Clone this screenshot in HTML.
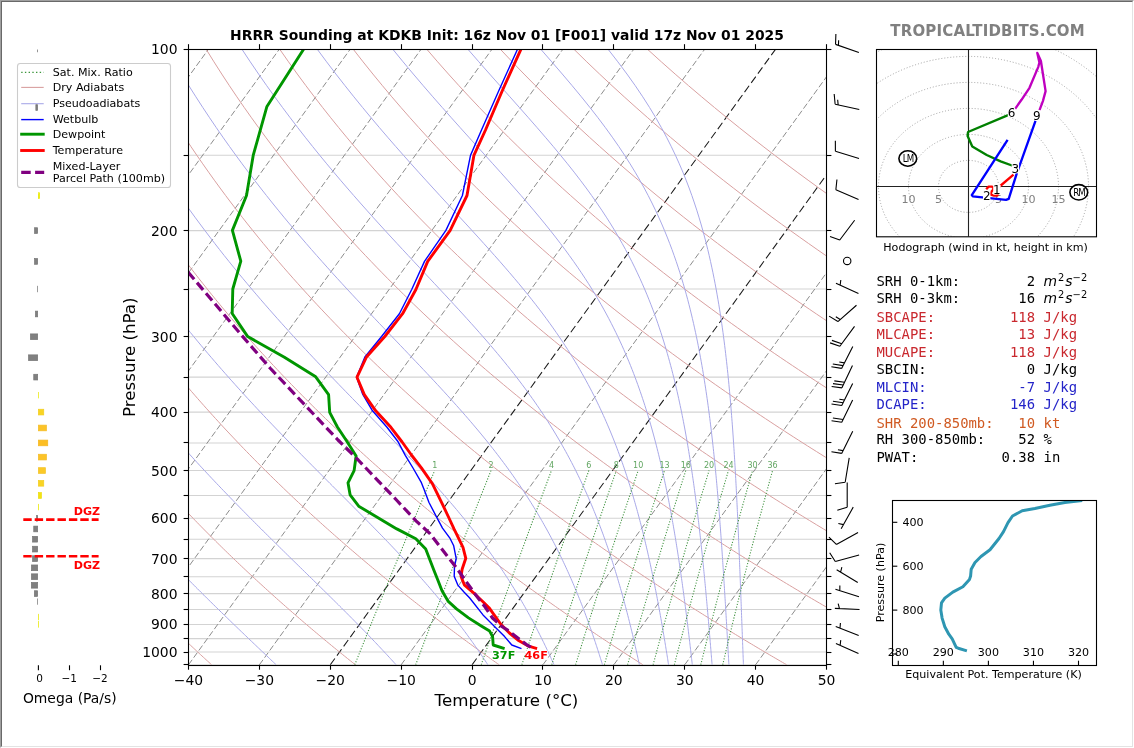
<!DOCTYPE html>
<html><head><meta charset="utf-8"><title>HRRR Sounding KDKB</title>
<style>
html,body{margin:0;padding:0;background:#ffffff;}
body{width:1134px;height:748px;overflow:hidden;position:relative;}
.frame{position:absolute;left:0;top:0;width:1134px;height:748px;box-sizing:border-box;
 border-style:solid;border-width:1px;border-color:#a0a0a0 #ffffff #ffffff #a0a0a0;}
.frame2{position:absolute;left:1px;top:1px;width:1132px;height:746px;box-sizing:border-box;
 border-style:solid;border-width:1px;border-color:#696969 #e3e3e3 #e3e3e3 #696969;}
</style></head><body>
<svg width="1134" height="748" viewBox="0 0 1134 748" style="position:absolute;left:0;top:0">
<defs>
<clipPath id="cskew"><rect x="188.5" y="49.08" width="638" height="615.73"/></clipPath>
<clipPath id="chodo"><rect x="876.7" y="49.4" width="219.8" height="187.4"/></clipPath>
<clipPath id="cthe"><rect x="892.4" y="500.5" width="204" height="165.1"/></clipPath>
</defs>
<rect x="0" y="0" width="1134" height="748" fill="#ffffff"/>
<g clip-path="url(#cskew)" fill="none">
<line x1="188.5" y1="49.08" x2="826.5" y2="49.08" stroke="#d3d3d3" stroke-width="1.1"/>
<line x1="188.5" y1="155.25" x2="826.5" y2="155.25" stroke="#d3d3d3" stroke-width="1.1"/>
<line x1="188.5" y1="230.59" x2="826.5" y2="230.59" stroke="#d3d3d3" stroke-width="1.1"/>
<line x1="188.5" y1="289.02" x2="826.5" y2="289.02" stroke="#d3d3d3" stroke-width="1.1"/>
<line x1="188.5" y1="336.76" x2="826.5" y2="336.76" stroke="#d3d3d3" stroke-width="1.1"/>
<line x1="188.5" y1="377.13" x2="826.5" y2="377.13" stroke="#d3d3d3" stroke-width="1.1"/>
<line x1="188.5" y1="412.09" x2="826.5" y2="412.09" stroke="#d3d3d3" stroke-width="1.1"/>
<line x1="188.5" y1="442.94" x2="826.5" y2="442.94" stroke="#d3d3d3" stroke-width="1.1"/>
<line x1="188.5" y1="470.53" x2="826.5" y2="470.53" stroke="#d3d3d3" stroke-width="1.1"/>
<line x1="188.5" y1="495.48" x2="826.5" y2="495.48" stroke="#d3d3d3" stroke-width="1.1"/>
<line x1="188.5" y1="518.27" x2="826.5" y2="518.27" stroke="#d3d3d3" stroke-width="1.1"/>
<line x1="188.5" y1="539.23" x2="826.5" y2="539.23" stroke="#d3d3d3" stroke-width="1.1"/>
<line x1="188.5" y1="558.64" x2="826.5" y2="558.64" stroke="#d3d3d3" stroke-width="1.1"/>
<line x1="188.5" y1="576.7" x2="826.5" y2="576.7" stroke="#d3d3d3" stroke-width="1.1"/>
<line x1="188.5" y1="593.6" x2="826.5" y2="593.6" stroke="#d3d3d3" stroke-width="1.1"/>
<line x1="188.5" y1="609.48" x2="826.5" y2="609.48" stroke="#d3d3d3" stroke-width="1.1"/>
<line x1="188.5" y1="624.44" x2="826.5" y2="624.44" stroke="#d3d3d3" stroke-width="1.1"/>
<line x1="188.5" y1="638.6" x2="826.5" y2="638.6" stroke="#d3d3d3" stroke-width="1.1"/>
<line x1="188.5" y1="652.03" x2="826.5" y2="652.03" stroke="#d3d3d3" stroke-width="1.1"/>
<line x1="188.5" y1="664.81" x2="826.5" y2="664.81" stroke="#d3d3d3" stroke-width="1.1"/>
<line x1="-307.72" y1="664.81" x2="137.67" y2="49.08" stroke="#8c8c8c" stroke-width="1" stroke-dasharray="6.2,2.6"/>
<line x1="-236.83" y1="664.81" x2="208.55" y2="49.08" stroke="#8c8c8c" stroke-width="1" stroke-dasharray="6.2,2.6"/>
<line x1="-165.94" y1="664.81" x2="279.44" y2="49.08" stroke="#8c8c8c" stroke-width="1" stroke-dasharray="6.2,2.6"/>
<line x1="-95.06" y1="664.81" x2="350.33" y2="49.08" stroke="#8c8c8c" stroke-width="1" stroke-dasharray="6.2,2.6"/>
<line x1="-24.17" y1="664.81" x2="421.22" y2="49.08" stroke="#8c8c8c" stroke-width="1" stroke-dasharray="6.2,2.6"/>
<line x1="46.72" y1="664.81" x2="492.11" y2="49.08" stroke="#8c8c8c" stroke-width="1" stroke-dasharray="6.2,2.6"/>
<line x1="117.61" y1="664.81" x2="563" y2="49.08" stroke="#8c8c8c" stroke-width="1" stroke-dasharray="6.2,2.6"/>
<line x1="188.5" y1="664.81" x2="633.89" y2="49.08" stroke="#8c8c8c" stroke-width="1" stroke-dasharray="6.2,2.6"/>
<line x1="259.39" y1="664.81" x2="704.78" y2="49.08" stroke="#8c8c8c" stroke-width="1" stroke-dasharray="6.2,2.6"/>
<line x1="330.28" y1="664.81" x2="775.67" y2="49.08" stroke="#1a1a1a" stroke-width="1.05" stroke-dasharray="7.8,3.6"/>
<line x1="401.17" y1="664.81" x2="846.55" y2="49.08" stroke="#8c8c8c" stroke-width="1" stroke-dasharray="6.2,2.6"/>
<line x1="472.06" y1="664.81" x2="917.44" y2="49.08" stroke="#1a1a1a" stroke-width="1.05" stroke-dasharray="7.8,3.6"/>
<line x1="542.94" y1="664.81" x2="988.33" y2="49.08" stroke="#8c8c8c" stroke-width="1" stroke-dasharray="6.2,2.6"/>
<line x1="613.83" y1="664.81" x2="1059.22" y2="49.08" stroke="#8c8c8c" stroke-width="1" stroke-dasharray="6.2,2.6"/>
<line x1="684.72" y1="664.81" x2="1130.11" y2="49.08" stroke="#8c8c8c" stroke-width="1" stroke-dasharray="6.2,2.6"/>
<line x1="755.61" y1="664.81" x2="1201" y2="49.08" stroke="#8c8c8c" stroke-width="1" stroke-dasharray="6.2,2.6"/>
<line x1="826.5" y1="664.81" x2="1271.89" y2="49.08" stroke="#8c8c8c" stroke-width="1" stroke-dasharray="6.2,2.6"/>
<polyline points="211.65,664.81 210.28,663.56 208.9,662.3 207.52,661.04 206.13,659.77 204.74,658.5 203.35,657.22 201.95,655.93 200.55,654.64 199.15,653.34 197.74,652.03 196.33,650.72 194.92,649.4 193.5,648.08 192.08,646.74 190.65,645.4 189.22,644.06 187.79,642.7 186.35,641.34 184.91,639.98 183.46,638.6 182.01,637.22 180.56,635.83 179.1,634.43 177.64,633.03 176.18,631.62 174.71,630.2 173.24,628.77 171.76,627.34 170.28,625.89 168.79,624.44 167.3,622.99 165.81,621.52 164.31,620.04 162.8,618.56 161.3,617.07 159.78,615.57 158.27,614.06 156.75,612.54 155.22,611.01 153.69,609.48 152.16,607.93 150.62,606.38 149.08,604.81 147.53,603.24 145.97,601.66 144.42,600.07 142.85,598.47 141.29,596.85 139.71,595.23 138.14,593.6 136.55,591.96 134.97,590.31 133.38,588.65 131.78,586.97 130.18,585.29 128.57,583.59 126.96,581.89 125.34,580.17 123.71,578.44 122.09,576.7 120.45,574.95 118.81,573.19 117.17,571.41 115.52,569.62 113.86,567.82 112.2,566.01 110.53,564.19 108.86,562.35 107.18,560.5 105.5,558.64 103.81,556.76 102.11,554.87 100.41,552.96 98.7,551.04 96.99,549.11 95.27,547.16 93.54,545.2 91.81,543.23 90.07,541.24 88.32,539.23 86.57,537.21 84.81,535.17 83.05,533.12 81.27,531.05 79.5,528.96 77.71,526.86 75.92,524.74 74.12,522.6 72.32,520.44 70.5,518.27 68.68,516.08 66.86,513.87 65.02,511.64 63.18,509.39 61.33,507.12 59.48,504.84 57.61,502.53 55.74,500.2 53.86,497.85 51.98,495.48 50.08,493.09 48.18,490.68 46.27,488.24 44.35,485.78 42.42,483.3 40.49,480.8 38.55,478.27 36.6,475.71 34.64,473.13 32.67,470.53 30.69,467.89 28.7,465.24 26.71,462.55 24.7,459.84 22.69,457.1 20.67,454.32 18.64,451.52 16.6,448.69 14.55,445.83 12.49,442.94 10.42,440.01 8.34,437.05 6.25,434.06 4.15,431.03 2.04,427.97 -0.08,424.87 -2.21,421.73 -4.36,418.56 -6.51,415.35 -8.67,412.09 -10.84,408.8 -13.03,405.46 -15.23,402.09 -17.43,398.66 -19.65,395.19 -21.88,391.68 -24.12,388.12 -26.38,384.5 -28.64,380.84 -30.92,377.13 -33.21,373.36 -35.52,369.54 -37.83,365.66 -40.16,361.72 -42.5,357.72 -44.86,353.66 -47.22,349.54 -49.6,345.35 -52,341.09 -54.41,336.76 -56.83,332.36 -59.26,327.88 -61.71,323.33 -64.18,318.7 -66.65,313.98 -69.15,309.17 -71.65,304.28 -74.18,299.29 -76.71,294.2 -79.26,289.02 -81.83,283.73 -84.41,278.33 -87.01,272.82 -89.62,267.19 -92.25,261.43 -94.89,255.55 -97.55,249.53 -100.22,243.36 -102.91,237.05 -105.61,230.59 -108.33,223.96 -111.06,217.16 -113.8,210.17 -116.56,203 -119.34,195.62 -122.12,188.03 -124.92,180.21 -127.73,172.15 -130.55,163.84 -133.37,155.25 -136.21,146.38 -139.05,137.19 -141.89,127.67 -144.74,117.78 -147.58,107.51 -150.42,96.82 -153.25,85.68 -156.06,74.04 -158.86,61.86 -161.62,49.08" stroke="#d9a0a0" stroke-width="1"/>
<polyline points="355.41,664.81 353.84,663.56 352.27,662.3 350.69,661.04 349.11,659.77 347.52,658.5 345.93,657.22 344.33,655.93 342.73,654.64 341.13,653.34 339.52,652.03 337.91,650.72 336.29,649.4 334.67,648.08 333.04,646.74 331.41,645.4 329.77,644.06 328.13,642.7 326.49,641.34 324.84,639.98 323.18,638.6 321.52,637.22 319.86,635.83 318.19,634.43 316.52,633.03 314.84,631.62 313.16,630.2 311.47,628.77 309.77,627.34 308.08,625.89 306.37,624.44 304.66,622.99 302.95,621.52 301.23,620.04 299.51,618.56 297.78,617.07 296.04,615.57 294.3,614.06 292.56,612.54 290.81,611.01 289.05,609.48 287.29,607.93 285.52,606.38 283.75,604.81 281.97,603.24 280.19,601.66 278.4,600.07 276.6,598.47 274.8,596.85 272.99,595.23 271.18,593.6 269.36,591.96 267.53,590.31 265.7,588.65 263.86,586.97 262.02,585.29 260.17,583.59 258.31,581.89 256.45,580.17 254.58,578.44 252.7,576.7 250.82,574.95 248.93,573.19 247.03,571.41 245.13,569.62 243.22,567.82 241.3,566.01 239.38,564.19 237.45,562.35 235.51,560.5 233.57,558.64 231.61,556.76 229.66,554.87 227.69,552.96 225.72,551.04 223.73,549.11 221.75,547.16 219.75,545.2 217.74,543.23 215.73,541.24 213.71,539.23 211.69,537.21 209.65,535.17 207.61,533.12 205.55,531.05 203.49,528.96 201.43,526.86 199.35,524.74 197.26,522.6 195.17,520.44 193.07,518.27 190.95,516.08 188.83,513.87 186.7,511.64 184.57,509.39 182.42,507.12 180.26,504.84 178.09,502.53 175.92,500.2 173.73,497.85 171.54,495.48 169.33,493.09 167.12,490.68 164.89,488.24 162.66,485.78 160.41,483.3 158.15,480.8 155.89,478.27 153.61,475.71 151.32,473.13 149.02,470.53 146.71,467.89 144.39,465.24 142.06,462.55 139.71,459.84 137.36,457.1 134.99,454.32 132.61,451.52 130.22,448.69 127.81,445.83 125.4,442.94 122.97,440.01 120.53,437.05 118.07,434.06 115.6,431.03 113.12,427.97 110.63,424.87 108.12,421.73 105.6,418.56 103.06,415.35 100.51,412.09 97.95,408.8 95.37,405.46 92.77,402.09 90.17,398.66 87.54,395.19 84.9,391.68 82.25,388.12 79.57,384.5 76.89,380.84 74.18,377.13 71.46,373.36 68.72,369.54 65.97,365.66 63.2,361.72 60.41,357.72 57.6,353.66 54.77,349.54 51.93,345.35 49.06,341.09 46.18,336.76 43.28,332.36 40.36,327.88 37.41,323.33 34.45,318.7 31.47,313.98 28.46,309.17 25.44,304.28 22.39,299.29 19.32,294.2 16.23,289.02 13.11,283.73 9.97,278.33 6.81,272.82 3.63,267.19 0.42,261.43 -2.82,255.55 -6.08,249.53 -9.36,243.36 -12.67,237.05 -16.01,230.59 -19.37,223.96 -22.75,217.16 -26.17,210.17 -29.61,203 -33.08,195.62 -36.57,188.03 -40.1,180.21 -43.65,172.15 -47.22,163.84 -50.82,155.25 -54.45,146.38 -58.11,137.19 -61.79,127.67 -65.49,117.78 -69.21,107.51 -72.96,96.82 -76.72,85.68 -80.5,74.04 -84.29,61.86 -88.09,49.08" stroke="#d9a0a0" stroke-width="1"/>
<polyline points="499.18,664.81 497.41,663.56 495.64,662.3 493.87,661.04 492.09,659.77 490.3,658.5 488.51,657.22 486.71,655.93 484.91,654.64 483.11,653.34 481.3,652.03 479.48,650.72 477.66,649.4 475.83,648.08 474,646.74 472.17,645.4 470.32,644.06 468.48,642.7 466.62,641.34 464.77,639.98 462.9,638.6 461.03,637.22 459.16,635.83 457.28,634.43 455.39,633.03 453.5,631.62 451.6,630.2 449.7,628.77 447.79,627.34 445.88,625.89 443.96,624.44 442.03,622.99 440.1,621.52 438.16,620.04 436.21,618.56 434.26,617.07 432.3,615.57 430.34,614.06 428.37,612.54 426.39,611.01 424.41,609.48 422.42,607.93 420.42,606.38 418.42,604.81 416.41,603.24 414.4,601.66 412.37,600.07 410.34,598.47 408.31,596.85 406.27,595.23 404.21,593.6 402.16,591.96 400.09,590.31 398.02,588.65 395.94,586.97 393.86,585.29 391.76,583.59 389.66,581.89 387.55,580.17 385.44,578.44 383.31,576.7 381.18,574.95 379.04,573.19 376.89,571.41 374.74,569.62 372.58,567.82 370.4,566.01 368.22,564.19 366.04,562.35 363.84,560.5 361.64,558.64 359.42,556.76 357.2,554.87 354.97,552.96 352.73,551.04 350.48,549.11 348.23,547.16 345.96,545.2 343.68,543.23 341.4,541.24 339.11,539.23 336.8,537.21 334.49,535.17 332.17,533.12 329.83,531.05 327.49,528.96 325.14,526.86 322.78,524.74 320.4,522.6 318.02,520.44 315.63,518.27 313.22,516.08 310.81,513.87 308.39,511.64 305.95,509.39 303.5,507.12 301.04,504.84 298.57,502.53 296.09,500.2 293.6,497.85 291.1,495.48 288.58,493.09 286.05,490.68 283.51,488.24 280.96,485.78 278.39,483.3 275.82,480.8 273.23,478.27 270.62,475.71 268.01,473.13 265.38,470.53 262.73,467.89 260.08,465.24 257.41,462.55 254.72,459.84 252.02,457.1 249.31,454.32 246.58,451.52 243.84,448.69 241.08,445.83 238.31,442.94 235.52,440.01 232.72,437.05 229.9,434.06 227.06,431.03 224.21,427.97 221.34,424.87 218.46,421.73 215.55,418.56 212.63,415.35 209.7,412.09 206.74,408.8 203.77,405.46 200.77,402.09 197.76,398.66 194.73,395.19 191.68,391.68 188.62,388.12 185.53,384.5 182.42,380.84 179.29,377.13 176.14,373.36 172.96,369.54 169.77,365.66 166.55,361.72 163.31,357.72 160.05,353.66 156.77,349.54 153.46,345.35 150.12,341.09 146.77,336.76 143.38,332.36 139.97,327.88 136.54,323.33 133.08,318.7 129.59,313.98 126.07,309.17 122.53,304.28 118.95,299.29 115.35,294.2 111.72,289.02 108.05,283.73 104.36,278.33 100.63,272.82 96.87,267.19 93.08,261.43 89.26,255.55 85.4,249.53 81.5,243.36 77.57,237.05 73.6,230.59 69.59,223.96 65.55,217.16 61.47,210.17 57.34,203 53.18,195.62 48.97,188.03 44.73,180.21 40.44,172.15 36.1,163.84 31.72,155.25 27.3,146.38 22.83,137.19 18.32,127.67 13.76,117.78 9.15,107.51 4.5,96.82 -0.2,85.68 -4.94,74.04 -9.72,61.86 -14.55,49.08" stroke="#d9a0a0" stroke-width="1"/>
<polyline points="642.94,664.81 640.98,663.56 639.01,662.3 637.04,661.04 635.06,659.77 633.08,658.5 631.09,657.22 629.09,655.93 627.09,654.64 625.09,653.34 623.07,652.03 621.06,650.72 619.03,649.4 617,648.08 614.97,646.74 612.92,645.4 610.88,644.06 608.82,642.7 606.76,641.34 604.7,639.98 602.62,638.6 600.54,637.22 598.46,635.83 596.37,634.43 594.27,633.03 592.16,631.62 590.05,630.2 587.93,628.77 585.81,627.34 583.68,625.89 581.54,624.44 579.39,622.99 577.24,621.52 575.08,620.04 572.91,618.56 570.74,617.07 568.56,615.57 566.37,614.06 564.18,612.54 561.98,611.01 559.77,609.48 557.55,607.93 555.33,606.38 553.09,604.81 550.86,603.24 548.61,601.66 546.35,600.07 544.09,598.47 541.82,596.85 539.54,595.23 537.25,593.6 534.96,591.96 532.66,590.31 530.34,588.65 528.02,586.97 525.7,585.29 523.36,583.59 521.01,581.89 518.66,580.17 516.3,578.44 513.93,576.7 511.55,574.95 509.16,573.19 506.76,571.41 504.35,569.62 501.93,567.82 499.51,566.01 497.07,564.19 494.63,562.35 492.17,560.5 489.71,558.64 487.23,556.76 484.75,554.87 482.25,552.96 479.75,551.04 477.23,549.11 474.71,547.16 472.17,545.2 469.62,543.23 467.07,541.24 464.5,539.23 461.92,537.21 459.33,535.17 456.73,533.12 454.11,531.05 451.49,528.96 448.85,526.86 446.21,524.74 443.55,522.6 440.88,520.44 438.19,518.27 435.5,516.08 432.79,513.87 430.07,511.64 427.33,509.39 424.59,507.12 421.83,504.84 419.05,502.53 416.27,500.2 413.47,497.85 410.66,495.48 407.83,493.09 404.99,490.68 402.13,488.24 399.26,485.78 396.38,483.3 393.48,480.8 390.57,478.27 387.64,475.71 384.69,473.13 381.73,470.53 378.76,467.89 375.76,465.24 372.75,462.55 369.73,459.84 366.69,457.1 363.63,454.32 360.55,451.52 357.46,448.69 354.35,445.83 351.22,442.94 348.07,440.01 344.91,437.05 341.72,434.06 338.52,431.03 335.3,427.97 332.05,424.87 328.79,421.73 325.51,418.56 322.2,415.35 318.88,412.09 315.53,408.8 312.16,405.46 308.77,402.09 305.36,398.66 301.93,395.19 298.47,391.68 294.99,388.12 291.48,384.5 287.95,380.84 284.39,377.13 280.81,373.36 277.2,369.54 273.57,365.66 269.91,361.72 266.22,357.72 262.51,353.66 258.76,349.54 254.99,345.35 251.18,341.09 247.35,336.76 243.49,332.36 239.59,327.88 235.66,323.33 231.7,318.7 227.71,313.98 223.68,309.17 219.62,304.28 215.52,299.29 211.38,294.2 207.21,289.02 203,283.73 198.74,278.33 194.45,272.82 190.12,267.19 185.75,261.43 181.33,255.55 176.87,249.53 172.36,243.36 167.81,237.05 163.2,230.59 158.55,223.96 153.85,217.16 149.1,210.17 144.3,203 139.44,195.62 134.52,188.03 129.55,180.21 124.52,172.15 119.43,163.84 114.27,155.25 109.06,146.38 103.77,137.19 98.43,127.67 93.01,117.78 87.52,107.51 81.96,96.82 76.33,85.68 70.62,74.04 64.84,61.86 58.99,49.08" stroke="#d9a0a0" stroke-width="1"/>
<polyline points="786.71,664.81 784.55,663.56 782.39,662.3 780.22,661.04 778.04,659.77 775.86,658.5 773.67,657.22 771.48,655.93 769.27,654.64 767.07,653.34 764.85,652.03 762.63,650.72 760.4,649.4 758.17,648.08 755.93,646.74 753.68,645.4 751.43,644.06 749.17,642.7 746.9,641.34 744.62,639.98 742.34,638.6 740.05,637.22 737.76,635.83 735.45,634.43 733.14,633.03 730.82,631.62 728.5,630.2 726.16,628.77 723.82,627.34 721.48,625.89 719.12,624.44 716.76,622.99 714.38,621.52 712.01,620.04 709.62,618.56 707.22,617.07 704.82,615.57 702.41,614.06 699.99,612.54 697.56,611.01 695.13,609.48 692.68,607.93 690.23,606.38 687.77,604.81 685.3,603.24 682.82,601.66 680.33,600.07 677.84,598.47 675.33,596.85 672.82,595.23 670.29,593.6 667.76,591.96 665.22,590.31 662.67,588.65 660.11,586.97 657.54,585.29 654.96,583.59 652.37,581.89 649.77,580.17 647.16,578.44 644.54,576.7 641.91,574.95 639.27,573.19 636.62,571.41 633.96,569.62 631.29,567.82 628.61,566.01 625.92,564.19 623.21,562.35 620.5,560.5 617.77,558.64 615.04,556.76 612.29,554.87 609.53,552.96 606.76,551.04 603.98,549.11 601.19,547.16 598.38,545.2 595.56,543.23 592.73,541.24 589.89,539.23 587.03,537.21 584.17,535.17 581.29,533.12 578.39,531.05 575.49,528.96 572.57,526.86 569.63,524.74 566.69,522.6 563.73,520.44 560.75,518.27 557.77,516.08 554.76,513.87 551.75,511.64 548.72,509.39 545.67,507.12 542.61,504.84 539.54,502.53 536.44,500.2 533.34,497.85 530.22,495.48 527.08,493.09 523.92,490.68 520.75,488.24 517.57,485.78 514.36,483.3 511.14,480.8 507.91,478.27 504.65,475.71 501.38,473.13 498.09,470.53 494.78,467.89 491.45,465.24 488.1,462.55 484.74,459.84 481.35,457.1 477.95,454.32 474.53,451.52 471.08,448.69 467.62,445.83 464.13,442.94 460.63,440.01 457.1,437.05 453.55,434.06 449.98,431.03 446.38,427.97 442.77,424.87 439.13,421.73 435.46,418.56 431.77,415.35 428.06,412.09 424.32,408.8 420.56,405.46 416.77,402.09 412.96,398.66 409.12,395.19 405.25,391.68 401.35,388.12 397.43,384.5 393.48,380.84 389.5,377.13 385.48,373.36 381.44,369.54 377.37,365.66 373.27,361.72 369.13,357.72 364.96,353.66 360.76,349.54 356.52,345.35 352.24,341.09 347.94,336.76 343.59,332.36 339.21,327.88 334.79,323.33 330.33,318.7 325.83,313.98 321.29,309.17 316.71,304.28 312.08,299.29 307.41,294.2 302.7,289.02 297.94,283.73 293.13,278.33 288.27,272.82 283.37,267.19 278.41,261.43 273.4,255.55 268.34,249.53 263.22,243.36 258.04,237.05 252.81,230.59 247.51,223.96 242.16,217.16 236.74,210.17 231.25,203 225.69,195.62 220.07,188.03 214.37,180.21 208.6,172.15 202.75,163.84 196.82,155.25 190.81,146.38 184.72,137.19 178.53,127.67 172.26,117.78 165.89,107.51 159.42,96.82 152.86,85.68 146.19,74.04 139.41,61.86 132.52,49.08" stroke="#d9a0a0" stroke-width="1"/>
<polyline points="930.47,664.81 928.12,663.56 925.76,662.3 923.39,661.04 921.02,659.77 918.64,658.5 916.25,657.22 913.86,655.93 911.45,654.64 909.05,653.34 906.63,652.03 904.21,650.72 901.78,649.4 899.34,648.08 896.89,646.74 894.44,645.4 891.98,644.06 889.51,642.7 887.04,641.34 884.55,639.98 882.06,638.6 879.56,637.22 877.05,635.83 874.54,634.43 872.02,633.03 869.48,631.62 866.94,630.2 864.4,628.77 861.84,627.34 859.28,625.89 856.7,624.44 854.12,622.99 851.53,621.52 848.93,620.04 846.32,618.56 843.71,617.07 841.08,615.57 838.44,614.06 835.8,612.54 833.15,611.01 830.48,609.48 827.81,607.93 825.13,606.38 822.44,604.81 819.74,603.24 817.03,601.66 814.31,600.07 811.58,598.47 808.84,596.85 806.09,595.23 803.33,593.6 800.56,591.96 797.78,590.31 794.99,588.65 792.19,586.97 789.38,585.29 786.55,583.59 783.72,581.89 780.88,580.17 778.02,578.44 775.15,576.7 772.28,574.95 769.39,573.19 766.48,571.41 763.57,569.62 760.65,567.82 757.71,566.01 754.76,564.19 751.8,562.35 748.83,560.5 745.84,558.64 742.85,556.76 739.84,554.87 736.81,552.96 733.78,551.04 730.73,549.11 727.67,547.16 724.59,545.2 721.5,543.23 718.4,541.24 715.28,539.23 712.15,537.21 709.01,535.17 705.85,533.12 702.67,531.05 699.48,528.96 696.28,526.86 693.06,524.74 689.83,522.6 686.58,520.44 683.32,518.27 680.04,516.08 676.74,513.87 673.43,511.64 670.1,509.39 666.76,507.12 663.39,504.84 660.02,502.53 656.62,500.2 653.21,497.85 649.78,495.48 646.33,493.09 642.86,490.68 639.38,488.24 635.87,485.78 632.35,483.3 628.81,480.8 625.24,478.27 621.66,475.71 618.06,473.13 614.44,470.53 610.8,467.89 607.14,465.24 603.45,462.55 599.75,459.84 596.02,457.1 592.27,454.32 588.5,451.52 584.7,448.69 580.89,445.83 577.04,442.94 573.18,440.01 569.29,437.05 565.37,434.06 561.43,431.03 557.47,427.97 553.48,424.87 549.46,421.73 545.42,418.56 541.34,415.35 537.24,412.09 533.12,408.8 528.96,405.46 524.77,402.09 520.56,398.66 516.31,395.19 512.03,391.68 507.72,388.12 503.38,384.5 499.01,380.84 494.6,377.13 490.16,373.36 485.68,369.54 481.17,365.66 476.62,361.72 472.04,357.72 467.41,353.66 462.75,349.54 458.05,345.35 453.31,341.09 448.52,336.76 443.7,332.36 438.83,327.88 433.91,323.33 428.96,318.7 423.95,313.98 418.9,309.17 413.8,304.28 408.65,299.29 403.44,294.2 398.19,289.02 392.88,283.73 387.52,278.33 382.1,272.82 376.62,267.19 371.08,261.43 365.48,255.55 359.81,249.53 354.08,243.36 348.28,237.05 342.41,230.59 336.47,223.96 330.46,217.16 324.37,210.17 318.2,203 311.95,195.62 305.62,188.03 299.2,180.21 292.68,172.15 286.08,163.84 279.37,155.25 272.57,146.38 265.66,137.19 258.64,127.67 251.51,117.78 244.26,107.51 236.88,96.82 229.38,85.68 221.75,74.04 213.98,61.86 206.06,49.08" stroke="#d9a0a0" stroke-width="1"/>
<polyline points="1074.23,664.81 1071.68,663.56 1069.13,662.3 1066.57,661.04 1064,659.77 1061.42,658.5 1058.83,657.22 1056.24,655.93 1053.64,654.64 1051.03,653.34 1048.41,652.03 1045.78,650.72 1043.15,649.4 1040.51,648.08 1037.86,646.74 1035.2,645.4 1032.53,644.06 1029.86,642.7 1027.17,641.34 1024.48,639.98 1021.78,638.6 1019.07,637.22 1016.35,635.83 1013.63,634.43 1010.89,633.03 1008.15,631.62 1005.39,630.2 1002.63,628.77 999.86,627.34 997.08,625.89 994.28,624.44 991.48,622.99 988.67,621.52 985.85,620.04 983.03,618.56 980.19,617.07 977.34,615.57 974.48,614.06 971.61,612.54 968.73,611.01 965.84,609.48 962.94,607.93 960.03,606.38 957.11,604.81 954.18,603.24 951.24,601.66 948.29,600.07 945.33,598.47 942.35,596.85 939.37,595.23 936.37,593.6 933.36,591.96 930.34,590.31 927.31,588.65 924.27,586.97 921.22,585.29 918.15,583.59 915.07,581.89 911.98,580.17 908.88,578.44 905.77,576.7 902.64,574.95 899.5,573.19 896.35,571.41 893.18,569.62 890,567.82 886.81,566.01 883.61,564.19 880.39,562.35 877.16,560.5 873.91,558.64 870.65,556.76 867.38,554.87 864.09,552.96 860.79,551.04 857.48,549.11 854.15,547.16 850.8,545.2 847.44,543.23 844.06,541.24 840.67,539.23 837.27,537.21 833.84,535.17 830.41,533.12 826.95,531.05 823.48,528.96 820,526.86 816.49,524.74 812.97,522.6 809.43,520.44 805.88,518.27 802.31,516.08 798.72,513.87 795.11,511.64 791.49,509.39 787.84,507.12 784.18,504.84 780.5,502.53 776.8,500.2 773.08,497.85 769.34,495.48 765.58,493.09 761.8,490.68 758,488.24 754.18,485.78 750.33,483.3 746.47,480.8 742.58,478.27 738.68,475.71 734.75,473.13 730.8,470.53 726.82,467.89 722.82,465.24 718.8,462.55 714.76,459.84 710.69,457.1 706.59,454.32 702.47,451.52 698.33,448.69 694.15,445.83 689.96,442.94 685.73,440.01 681.48,437.05 677.2,434.06 672.89,431.03 668.56,427.97 664.19,424.87 659.8,421.73 655.37,418.56 650.92,415.35 646.43,412.09 641.91,408.8 637.36,405.46 632.77,402.09 628.16,398.66 623.5,395.19 618.82,391.68 614.09,388.12 609.34,384.5 604.54,380.84 599.71,377.13 594.83,373.36 589.92,369.54 584.97,365.66 579.98,361.72 574.94,357.72 569.87,353.66 564.74,349.54 559.58,345.35 554.37,341.09 549.11,336.76 543.8,332.36 538.45,327.88 533.04,323.33 527.58,318.7 522.07,313.98 516.51,309.17 510.89,304.28 505.21,299.29 499.47,294.2 493.68,289.02 487.82,283.73 481.9,278.33 475.92,272.82 469.86,267.19 463.74,261.43 457.55,255.55 451.28,249.53 444.94,243.36 438.52,237.05 432.02,230.59 425.44,223.96 418.77,217.16 412.01,210.17 405.16,203 398.21,195.62 391.17,188.03 384.02,180.21 376.76,172.15 369.4,163.84 361.92,155.25 354.32,146.38 346.6,137.19 338.74,127.67 330.76,117.78 322.62,107.51 314.35,96.82 305.91,85.68 297.31,74.04 288.55,61.86 279.6,49.08" stroke="#d9a0a0" stroke-width="1"/>
<polyline points="1218,664.81 1215.25,663.56 1212.5,662.3 1209.74,661.04 1206.97,659.77 1204.2,658.5 1201.41,657.22 1198.62,655.93 1195.82,654.64 1193.01,653.34 1190.19,652.03 1187.36,650.72 1184.52,649.4 1181.68,648.08 1178.82,646.74 1175.96,645.4 1173.08,644.06 1170.2,642.7 1167.31,641.34 1164.41,639.98 1161.5,638.6 1158.58,637.22 1155.65,635.83 1152.71,634.43 1149.77,633.03 1146.81,631.62 1143.84,630.2 1140.86,628.77 1137.87,627.34 1134.88,625.89 1131.87,624.44 1128.85,622.99 1125.82,621.52 1122.78,620.04 1119.73,618.56 1116.67,617.07 1113.6,615.57 1110.52,614.06 1107.42,612.54 1104.32,611.01 1101.2,609.48 1098.08,607.93 1094.94,606.38 1091.79,604.81 1088.63,603.24 1085.45,601.66 1082.27,600.07 1079.07,598.47 1075.86,596.85 1072.64,595.23 1069.41,593.6 1066.16,591.96 1062.91,590.31 1059.64,588.65 1056.35,586.97 1053.06,585.29 1049.75,583.59 1046.43,581.89 1043.09,580.17 1039.74,578.44 1036.38,576.7 1033,574.95 1029.61,573.19 1026.21,571.41 1022.79,569.62 1019.36,567.82 1015.92,566.01 1012.45,564.19 1008.98,562.35 1005.49,560.5 1001.98,558.64 998.46,556.76 994.93,554.87 991.38,552.96 987.81,551.04 984.22,549.11 980.63,547.16 977.01,545.2 973.38,543.23 969.73,541.24 966.07,539.23 962.38,537.21 958.68,535.17 954.97,533.12 951.23,531.05 947.48,528.96 943.71,526.86 939.92,524.74 936.11,522.6 932.29,520.44 928.44,518.27 924.58,516.08 920.7,513.87 916.79,511.64 912.87,509.39 908.93,507.12 904.96,504.84 900.98,502.53 896.97,500.2 892.94,497.85 888.9,495.48 884.83,493.09 880.73,490.68 876.62,488.24 872.48,485.78 868.32,483.3 864.13,480.8 859.92,478.27 855.69,475.71 851.43,473.13 847.15,470.53 842.84,467.89 838.51,465.24 834.15,462.55 829.76,459.84 825.35,457.1 820.91,454.32 816.44,451.52 811.95,448.69 807.42,445.83 802.87,442.94 798.28,440.01 793.67,437.05 789.03,434.06 784.35,431.03 779.64,427.97 774.9,424.87 770.13,421.73 765.33,418.56 760.49,415.35 755.61,412.09 750.7,408.8 745.76,405.46 740.77,402.09 735.75,398.66 730.7,395.19 725.6,391.68 720.46,388.12 715.29,384.5 710.07,380.84 704.81,377.13 699.51,373.36 694.16,369.54 688.77,365.66 683.33,361.72 677.85,357.72 672.32,353.66 666.74,349.54 661.11,345.35 655.43,341.09 649.69,336.76 643.91,332.36 638.06,327.88 632.16,323.33 626.21,318.7 620.19,313.98 614.12,309.17 607.98,304.28 601.77,299.29 595.51,294.2 589.17,289.02 582.76,283.73 576.29,278.33 569.74,272.82 563.11,267.19 556.41,261.43 549.62,255.55 542.75,249.53 535.8,243.36 528.76,237.05 521.62,230.59 514.4,223.96 507.07,217.16 499.64,210.17 492.11,203 484.47,195.62 476.71,188.03 468.84,180.21 460.85,172.15 452.72,163.84 444.47,155.25 436.08,146.38 427.54,137.19 418.85,127.67 410,117.78 400.99,107.51 391.81,96.82 382.44,85.68 372.88,74.04 363.11,61.86 353.14,49.08" stroke="#d9a0a0" stroke-width="1"/>
<polyline points="1361.76,664.81 1358.82,663.56 1355.87,662.3 1352.92,661.04 1349.95,659.77 1346.98,658.5 1343.99,657.22 1341,655.93 1338,654.64 1334.98,653.34 1331.96,652.03 1328.93,650.72 1325.89,649.4 1322.84,648.08 1319.78,646.74 1316.72,645.4 1313.64,644.06 1310.55,642.7 1307.45,641.34 1304.34,639.98 1301.22,638.6 1298.09,637.22 1294.95,635.83 1291.8,634.43 1288.64,633.03 1285.47,631.62 1282.29,630.2 1279.09,628.77 1275.89,627.34 1272.67,625.89 1269.45,624.44 1266.21,622.99 1262.96,621.52 1259.7,620.04 1256.43,618.56 1253.15,617.07 1249.86,615.57 1246.55,614.06 1243.23,612.54 1239.9,611.01 1236.56,609.48 1233.21,607.93 1229.84,606.38 1226.46,604.81 1223.07,603.24 1219.66,601.66 1216.25,600.07 1212.82,598.47 1209.37,596.85 1205.92,595.23 1202.45,593.6 1198.97,591.96 1195.47,590.31 1191.96,588.65 1188.44,586.97 1184.9,585.29 1181.35,583.59 1177.78,581.89 1174.2,580.17 1170.6,578.44 1166.99,576.7 1163.37,574.95 1159.73,573.19 1156.07,571.41 1152.4,569.62 1148.72,567.82 1145.02,566.01 1141.3,564.19 1137.57,562.35 1133.82,560.5 1130.05,558.64 1126.27,556.76 1122.47,554.87 1118.66,552.96 1114.82,551.04 1110.97,549.11 1107.11,547.16 1103.22,545.2 1099.32,543.23 1095.4,541.24 1091.46,539.23 1087.5,537.21 1083.52,535.17 1079.53,533.12 1075.51,531.05 1071.48,528.96 1067.42,526.86 1063.35,524.74 1059.26,522.6 1055.14,520.44 1051.01,518.27 1046.85,516.08 1042.67,513.87 1038.47,511.64 1034.25,509.39 1030.01,507.12 1025.75,504.84 1021.46,502.53 1017.15,500.2 1012.81,497.85 1008.46,495.48 1004.07,493.09 999.67,490.68 995.24,488.24 990.78,485.78 986.3,483.3 981.8,480.8 977.26,478.27 972.7,475.71 968.12,473.13 963.51,470.53 958.87,467.89 954.2,465.24 949.5,462.55 944.77,459.84 940.02,457.1 935.23,454.32 930.42,451.52 925.57,448.69 920.69,445.83 915.78,442.94 910.84,440.01 905.86,437.05 900.85,434.06 895.81,431.03 890.73,427.97 885.62,424.87 880.47,421.73 875.28,418.56 870.06,415.35 864.79,412.09 859.49,408.8 854.15,405.46 848.77,402.09 843.35,398.66 837.89,395.19 832.38,391.68 826.83,388.12 821.24,384.5 815.6,380.84 809.91,377.13 804.18,373.36 798.4,369.54 792.57,365.66 786.69,361.72 780.76,357.72 774.77,353.66 768.73,349.54 762.64,345.35 756.49,341.09 750.28,336.76 744.01,332.36 737.68,327.88 731.29,323.33 724.83,318.7 718.31,313.98 711.73,309.17 705.07,304.28 698.34,299.29 691.54,294.2 684.66,289.02 677.71,283.73 670.67,278.33 663.56,272.82 656.36,267.19 649.07,261.43 641.69,255.55 634.22,249.53 626.66,243.36 619,237.05 611.23,230.59 603.36,223.96 595.37,217.16 587.28,210.17 579.06,203 570.73,195.62 562.26,188.03 553.66,180.21 544.93,172.15 536.05,163.84 527.02,155.25 517.83,146.38 508.48,137.19 498.96,127.67 489.25,117.78 479.36,107.51 469.27,96.82 458.96,85.68 448.44,74.04 437.68,61.86 426.67,49.08" stroke="#d9a0a0" stroke-width="1"/>
<polyline points="1505.52,664.81 1502.39,663.56 1499.25,662.3 1496.09,661.04 1492.93,659.77 1489.76,658.5 1486.57,657.22 1483.38,655.93 1480.18,654.64 1476.96,653.34 1473.74,652.03 1470.51,650.72 1467.27,649.4 1464.01,648.08 1460.75,646.74 1457.47,645.4 1454.19,644.06 1450.89,642.7 1447.59,641.34 1444.27,639.98 1440.94,638.6 1437.6,637.22 1434.25,635.83 1430.89,634.43 1427.51,633.03 1424.13,631.62 1420.73,630.2 1417.33,628.77 1413.91,627.34 1410.47,625.89 1407.03,624.44 1403.58,622.99 1400.11,621.52 1396.63,620.04 1393.14,618.56 1389.63,617.07 1386.12,615.57 1382.59,614.06 1379.04,612.54 1375.49,611.01 1371.92,609.48 1368.34,607.93 1364.74,606.38 1361.13,604.81 1357.51,603.24 1353.88,601.66 1350.23,600.07 1346.56,598.47 1342.89,596.85 1339.19,595.23 1335.49,593.6 1331.77,591.96 1328.03,590.31 1324.28,588.65 1320.52,586.97 1316.74,585.29 1312.94,583.59 1309.13,581.89 1305.31,580.17 1301.47,578.44 1297.61,576.7 1293.73,574.95 1289.84,573.19 1285.94,571.41 1282.02,569.62 1278.08,567.82 1274.12,566.01 1270.15,564.19 1266.16,562.35 1262.15,560.5 1258.12,558.64 1254.08,556.76 1250.02,554.87 1245.94,552.96 1241.84,551.04 1237.72,549.11 1233.59,547.16 1229.43,545.2 1225.26,543.23 1221.06,541.24 1216.85,539.23 1212.62,537.21 1208.36,535.17 1204.09,533.12 1199.79,531.05 1195.48,528.96 1191.14,526.86 1186.78,524.74 1182.4,522.6 1177.99,520.44 1173.57,518.27 1169.12,516.08 1164.65,513.87 1160.16,511.64 1155.64,509.39 1151.1,507.12 1146.53,504.84 1141.94,502.53 1137.32,500.2 1132.68,497.85 1128.02,495.48 1123.32,493.09 1118.6,490.68 1113.86,488.24 1109.09,485.78 1104.29,483.3 1099.46,480.8 1094.6,478.27 1089.72,475.71 1084.8,473.13 1079.86,470.53 1074.89,467.89 1069.88,465.24 1064.85,462.55 1059.78,459.84 1054.68,457.1 1049.55,454.32 1044.39,451.52 1039.19,448.69 1033.96,445.83 1028.69,442.94 1023.39,440.01 1018.05,437.05 1012.68,434.06 1007.27,431.03 1001.82,427.97 996.33,424.87 990.8,421.73 985.23,418.56 979.63,415.35 973.98,412.09 968.29,408.8 962.55,405.46 956.77,402.09 950.95,398.66 945.08,395.19 939.17,391.68 933.2,388.12 927.19,384.5 921.13,380.84 915.02,377.13 908.86,373.36 902.64,369.54 896.37,365.66 890.05,361.72 883.66,357.72 877.23,353.66 870.73,349.54 864.17,345.35 857.55,341.09 850.86,336.76 844.11,332.36 837.3,327.88 830.42,323.33 823.46,318.7 816.43,313.98 809.33,309.17 802.16,304.28 794.9,299.29 787.57,294.2 780.15,289.02 772.65,283.73 765.06,278.33 757.38,272.82 749.61,267.19 741.74,261.43 733.77,255.55 725.7,249.53 717.52,243.36 709.23,237.05 700.83,230.59 692.32,223.96 683.68,217.16 674.91,210.17 666.02,203 656.98,195.62 647.81,188.03 638.49,180.21 629.01,172.15 619.37,163.84 609.57,155.25 599.59,146.38 589.42,137.19 579.06,127.67 568.5,117.78 557.73,107.51 546.73,96.82 535.49,85.68 524,74.04 512.25,61.86 500.21,49.08" stroke="#d9a0a0" stroke-width="1"/>
<polyline points="1649.29,664.81 1645.96,663.56 1642.62,662.3 1639.27,661.04 1635.91,659.77 1632.53,658.5 1629.15,657.22 1625.76,655.93 1622.36,654.64 1618.94,653.34 1615.52,652.03 1612.08,650.72 1608.64,649.4 1605.18,648.08 1601.71,646.74 1598.23,645.4 1594.74,644.06 1591.24,642.7 1587.72,641.34 1584.2,639.98 1580.66,638.6 1577.11,637.22 1573.55,635.83 1569.97,634.43 1566.39,633.03 1562.79,631.62 1559.18,630.2 1555.56,628.77 1551.92,627.34 1548.27,625.89 1544.61,624.44 1540.94,622.99 1537.25,621.52 1533.55,620.04 1529.84,618.56 1526.11,617.07 1522.37,615.57 1518.62,614.06 1514.85,612.54 1511.07,611.01 1507.28,609.48 1503.47,607.93 1499.64,606.38 1495.81,604.81 1491.95,603.24 1488.09,601.66 1484.21,600.07 1480.31,598.47 1476.4,596.85 1472.47,595.23 1468.53,593.6 1464.57,591.96 1460.6,590.31 1456.61,588.65 1452.6,586.97 1448.58,585.29 1444.54,583.59 1440.49,581.89 1436.41,580.17 1432.33,578.44 1428.22,576.7 1424.1,574.95 1419.96,573.19 1415.8,571.41 1411.63,569.62 1407.43,567.82 1403.22,566.01 1398.99,564.19 1394.74,562.35 1390.48,560.5 1386.19,558.64 1381.89,556.76 1377.56,554.87 1373.22,552.96 1368.85,551.04 1364.47,549.11 1360.07,547.16 1355.64,545.2 1351.2,543.23 1346.73,541.24 1342.24,539.23 1337.73,537.21 1333.2,535.17 1328.65,533.12 1324.07,531.05 1319.47,528.96 1314.85,526.86 1310.21,524.74 1305.54,522.6 1300.85,520.44 1296.13,518.27 1291.39,516.08 1286.63,513.87 1281.84,511.64 1277.02,509.39 1272.18,507.12 1267.31,504.84 1262.42,502.53 1257.5,500.2 1252.55,497.85 1247.58,495.48 1242.57,493.09 1237.54,490.68 1232.48,488.24 1227.39,485.78 1222.27,483.3 1217.12,480.8 1211.94,478.27 1206.73,475.71 1201.49,473.13 1196.22,470.53 1190.91,467.89 1185.57,465.24 1180.2,462.55 1174.79,459.84 1169.35,457.1 1163.87,454.32 1158.36,451.52 1152.81,448.69 1147.23,445.83 1141.6,442.94 1135.94,440.01 1130.24,437.05 1124.5,434.06 1118.72,431.03 1112.9,427.97 1107.04,424.87 1101.14,421.73 1095.19,418.56 1089.2,415.35 1083.16,412.09 1077.08,408.8 1070.95,405.46 1064.77,402.09 1058.55,398.66 1052.27,395.19 1045.95,391.68 1039.57,388.12 1033.14,384.5 1026.66,380.84 1020.12,377.13 1013.53,373.36 1006.88,369.54 1000.17,365.66 993.4,361.72 986.57,357.72 979.68,353.66 972.72,349.54 965.7,345.35 958.61,341.09 951.45,336.76 944.22,332.36 936.92,327.88 929.54,323.33 922.09,318.7 914.56,313.98 906.94,309.17 899.25,304.28 891.47,299.29 883.6,294.2 875.64,289.02 867.59,283.73 859.44,278.33 851.2,272.82 842.85,267.19 834.4,261.43 825.84,255.55 817.17,249.53 808.38,243.36 799.47,237.05 790.44,230.59 781.28,223.96 771.98,217.16 762.55,210.17 752.97,203 743.24,195.62 733.36,188.03 723.31,180.21 713.09,172.15 702.7,163.84 692.12,155.25 681.34,146.38 670.36,137.19 659.17,127.67 647.75,117.78 636.1,107.51 624.19,96.82 612.02,85.68 599.57,74.04 586.82,61.86 573.75,49.08" stroke="#d9a0a0" stroke-width="1"/>
<polyline points="1793.05,664.81 1789.53,663.56 1785.99,662.3 1782.44,661.04 1778.88,659.77 1775.31,658.5 1771.73,657.22 1768.14,655.93 1764.54,654.64 1760.92,653.34 1757.3,652.03 1753.66,650.72 1750.01,649.4 1746.35,648.08 1742.67,646.74 1738.99,645.4 1735.29,644.06 1731.58,642.7 1727.86,641.34 1724.13,639.98 1720.38,638.6 1716.62,637.22 1712.85,635.83 1709.06,634.43 1705.26,633.03 1701.45,631.62 1697.63,630.2 1693.79,628.77 1689.94,627.34 1686.07,625.89 1682.2,624.44 1678.3,622.99 1674.4,621.52 1670.48,620.04 1666.54,618.56 1662.6,617.07 1658.63,615.57 1654.66,614.06 1650.66,612.54 1646.66,611.01 1642.64,609.48 1638.6,607.93 1634.55,606.38 1630.48,604.81 1626.4,603.24 1622.3,601.66 1618.18,600.07 1614.05,598.47 1609.91,596.85 1605.75,595.23 1601.57,593.6 1597.37,591.96 1593.16,590.31 1588.93,588.65 1584.68,586.97 1580.42,585.29 1576.14,583.59 1571.84,581.89 1567.52,580.17 1563.19,578.44 1558.83,576.7 1554.46,574.95 1550.07,573.19 1545.66,571.41 1541.24,569.62 1536.79,567.82 1532.32,566.01 1527.84,564.19 1523.33,562.35 1518.81,560.5 1514.26,558.64 1509.69,556.76 1505.11,554.87 1500.5,552.96 1495.87,551.04 1491.22,549.11 1486.55,547.16 1481.85,545.2 1477.13,543.23 1472.4,541.24 1467.63,539.23 1462.85,537.21 1458.04,535.17 1453.21,533.12 1448.35,531.05 1443.47,528.96 1438.57,526.86 1433.64,524.74 1428.68,522.6 1423.7,520.44 1418.69,518.27 1413.66,516.08 1408.6,513.87 1403.52,511.64 1398.41,509.39 1393.26,507.12 1388.1,504.84 1382.9,502.53 1377.67,500.2 1372.42,497.85 1367.14,495.48 1361.82,493.09 1356.48,490.68 1351.1,488.24 1345.69,485.78 1340.26,483.3 1334.79,480.8 1329.28,478.27 1323.75,475.71 1318.18,473.13 1312.57,470.53 1306.93,467.89 1301.26,465.24 1295.55,462.55 1289.8,459.84 1284.01,457.1 1278.19,454.32 1272.33,451.52 1266.43,448.69 1260.49,445.83 1254.51,442.94 1248.49,440.01 1242.43,437.05 1236.33,434.06 1230.18,431.03 1223.99,427.97 1217.75,424.87 1211.47,421.73 1205.14,418.56 1198.77,415.35 1192.34,412.09 1185.87,408.8 1179.35,405.46 1172.77,402.09 1166.15,398.66 1159.47,395.19 1152.73,391.68 1145.94,388.12 1139.1,384.5 1132.19,380.84 1125.23,377.13 1118.21,373.36 1111.12,369.54 1103.97,365.66 1096.76,361.72 1089.48,357.72 1082.13,353.66 1074.72,349.54 1067.23,345.35 1059.67,341.09 1052.04,336.76 1044.32,332.36 1036.54,327.88 1028.67,323.33 1020.71,318.7 1012.68,313.98 1004.55,309.17 996.34,304.28 988.03,299.29 979.63,294.2 971.13,289.02 962.53,283.73 953.83,278.33 945.02,272.82 936.1,267.19 927.07,261.43 917.91,255.55 908.64,249.53 899.24,243.36 889.71,237.05 880.04,230.59 870.24,223.96 860.29,217.16 850.18,210.17 839.92,203 829.5,195.62 818.9,188.03 808.13,180.21 797.17,172.15 786.02,163.84 774.67,155.25 763.1,146.38 751.3,137.19 739.28,127.67 727,117.78 714.46,107.51 701.65,96.82 688.54,85.68 675.13,74.04 661.38,61.86 647.29,49.08" stroke="#d9a0a0" stroke-width="1"/>
<polyline points="276.18,664.81 274.86,663.56 273.54,662.3 272.21,661.04 270.88,659.77 269.54,658.5 268.19,657.22 266.84,655.93 265.48,654.64 264.11,653.34 262.74,652.03 261.36,650.72 259.98,649.4 258.58,648.08 257.18,646.74 255.78,645.4 254.37,644.06 252.95,642.7 251.52,641.34 250.09,639.98 248.65,638.6 247.2,637.22 245.75,635.83 244.29,634.43 242.83,633.03 241.35,631.62 239.87,630.2 238.39,628.77 236.89,627.34 235.4,625.89 233.89,624.44 232.38,622.99 230.86,621.52 229.33,620.04 227.8,618.56 226.25,617.07 224.71,615.57 223.15,614.06 221.59,612.54 220.02,611.01 218.45,609.48 216.87,607.93 215.28,606.38 213.68,604.81 212.08,603.24 210.47,601.66 208.86,600.07 207.23,598.47 205.6,596.85 203.97,595.23 202.32,593.6 200.67,591.96 199.01,590.31 197.35,588.65 195.67,586.97 193.99,585.29 192.31,583.59 190.61,581.89 188.91,580.17 187.2,578.44 185.49,576.7 183.76,574.95 182.03,573.19 180.29,571.41 178.55,569.62 176.8,567.82 175.04,566.01 173.27,564.19 171.49,562.35 169.71,560.5 167.92,558.64 166.12,556.76 164.32,554.87 162.51,552.96 160.68,551.04 158.86,549.11 157.02,547.16 155.18,545.2 153.33,543.23 151.47,541.24 149.6,539.23 147.72,537.21 145.84,535.17 143.95,533.12 142.05,531.05 140.14,528.96 138.22,526.86 136.3,524.74 134.37,522.6 132.42,520.44 130.48,518.27 128.52,516.08 126.55,513.87 124.57,511.64 122.59,509.39 120.6,507.12 118.6,504.84 116.58,502.53 114.56,500.2 112.54,497.85 110.5,495.48 108.45,493.09 106.39,490.68 104.33,488.24 102.25,485.78 100.17,483.3 98.07,480.8 95.97,478.27 93.85,475.71 91.73,473.13 89.59,470.53 87.45,467.89 85.29,465.24 83.13,462.55 80.95,459.84 78.76,457.1 76.57,454.32 74.36,451.52 72.14,448.69 69.91,445.83 67.67,442.94 65.41,440.01 63.15,437.05 60.87,434.06 58.59,431.03 56.29,427.97 53.98,424.87 51.65,421.73 49.32,418.56 46.97,415.35 44.61,412.09 42.23,408.8 39.85,405.46 37.45,402.09 35.03,398.66 32.61,395.19 30.17,391.68 27.71,388.12 25.25,384.5 22.76,380.84 20.27,377.13 17.76,373.36 15.23,369.54 12.69,365.66 10.13,361.72 7.56,357.72 4.98,353.66 2.37,349.54 -0.24,345.35 -2.88,341.09 -5.53,336.76 -8.2,332.36 -10.88,327.88 -13.58,323.33 -16.3,318.7 -19.04,313.98 -21.79,309.17 -24.57,304.28 -27.36,299.29 -30.17,294.2 -32.99,289.02 -35.84,283.73 -38.71,278.33 -41.59,272.82 -44.5,267.19 -47.42,261.43 -50.36,255.55 -53.33,249.53 -56.31,243.36 -59.32,237.05 -62.34,230.59 -65.39,223.96 -68.45,217.16 -71.54,210.17 -74.64,203 -77.77,195.62 -80.92,188.03 -84.08,180.21 -87.27,172.15 -90.47,163.84 -93.69,155.25 -96.93,146.38 -100.18,137.19 -103.45,127.67 -106.72,117.78 -110.01,107.51 -113.31,96.82 -116.61,85.68 -119.91,74.04 -123.21,61.86 -126.49,49.08" stroke="#a8a8e8" stroke-width="1"/>
<polyline points="396.1,664.81 394.97,663.56 393.83,662.3 392.68,661.04 391.53,659.77 390.36,658.5 389.18,657.22 388,655.93 386.8,654.64 385.59,653.34 384.38,652.03 383.15,650.72 381.92,649.4 380.67,648.08 379.42,646.74 378.15,645.4 376.88,644.06 375.59,642.7 374.3,641.34 372.99,639.98 371.68,638.6 370.35,637.22 369.01,635.83 367.66,634.43 366.3,633.03 364.93,631.62 363.55,630.2 362.16,628.77 360.76,627.34 359.34,625.89 357.92,624.44 356.48,622.99 355.04,621.52 353.58,620.04 352.11,618.56 350.63,617.07 349.13,615.57 347.63,614.06 346.11,612.54 344.59,611.01 343.05,609.48 341.5,607.93 339.93,606.38 338.36,604.81 336.77,603.24 335.18,601.66 333.57,600.07 331.94,598.47 330.31,596.85 328.66,595.23 327.01,593.6 325.34,591.96 323.65,590.31 321.96,588.65 320.25,586.97 318.53,585.29 316.8,583.59 315.06,581.89 313.3,580.17 311.54,578.44 309.76,576.7 307.96,574.95 306.16,573.19 304.34,571.41 302.51,569.62 300.67,567.82 298.81,566.01 296.95,564.19 295.07,562.35 293.17,560.5 291.27,558.64 289.35,556.76 287.42,554.87 285.48,552.96 283.52,551.04 281.55,549.11 279.57,547.16 277.58,545.2 275.57,543.23 273.55,541.24 271.52,539.23 269.47,537.21 267.41,535.17 265.34,533.12 263.26,531.05 261.16,528.96 259.06,526.86 256.93,524.74 254.8,522.6 252.65,520.44 250.49,518.27 248.31,516.08 246.13,513.87 243.93,511.64 241.71,509.39 239.49,507.12 237.25,504.84 234.99,502.53 232.73,500.2 230.45,497.85 228.15,495.48 225.85,493.09 223.53,490.68 221.19,488.24 218.85,485.78 216.49,483.3 214.11,480.8 211.72,478.27 209.32,475.71 206.9,473.13 204.47,470.53 202.03,467.89 199.57,465.24 197.1,462.55 194.61,459.84 192.11,457.1 189.59,454.32 187.06,451.52 184.51,448.69 181.95,445.83 179.37,442.94 176.78,440.01 174.17,437.05 171.55,434.06 168.91,431.03 166.26,427.97 163.59,424.87 160.9,421.73 158.2,418.56 155.48,415.35 152.74,412.09 149.99,408.8 147.22,405.46 144.43,402.09 141.63,398.66 138.8,395.19 135.96,391.68 133.1,388.12 130.23,384.5 127.33,380.84 124.41,377.13 121.48,373.36 118.53,369.54 115.55,365.66 112.56,361.72 109.54,357.72 106.51,353.66 103.45,349.54 100.37,345.35 97.28,341.09 94.15,336.76 91.01,332.36 87.84,327.88 84.65,323.33 81.44,318.7 78.2,313.98 74.94,309.17 71.65,304.28 68.34,299.29 65,294.2 61.64,289.02 58.25,283.73 54.83,278.33 51.38,272.82 47.91,267.19 44.41,261.43 40.88,255.55 37.31,249.53 33.72,243.36 30.1,237.05 26.45,230.59 22.76,223.96 19.05,217.16 15.3,210.17 11.51,203 7.7,195.62 3.85,188.03 -0.04,180.21 -3.96,172.15 -7.91,163.84 -11.91,155.25 -15.93,146.38 -19.99,137.19 -24.09,127.67 -28.22,117.78 -32.38,107.51 -36.58,96.82 -40.81,85.68 -45.06,74.04 -49.35,61.86 -53.66,49.08" stroke="#a8a8e8" stroke-width="1"/>
<polyline points="487.86,664.81 487.04,663.56 486.22,662.3 485.39,661.04 484.55,659.77 483.7,658.5 482.85,657.22 481.98,655.93 481.11,654.64 480.23,653.34 479.34,652.03 478.44,650.72 477.53,649.4 476.61,648.08 475.68,646.74 474.74,645.4 473.79,644.06 472.83,642.7 471.87,641.34 470.89,639.98 469.9,638.6 468.9,637.22 467.89,635.83 466.87,634.43 465.84,633.03 464.79,631.62 463.74,630.2 462.67,628.77 461.59,627.34 460.5,625.89 459.4,624.44 458.29,622.99 457.16,621.52 456.03,620.04 454.87,618.56 453.71,617.07 452.53,615.57 451.34,614.06 450.14,612.54 448.92,611.01 447.69,609.48 446.45,607.93 445.19,606.38 443.92,604.81 442.63,603.24 441.33,601.66 440.01,600.07 438.68,598.47 437.34,596.85 435.97,595.23 434.6,593.6 433.2,591.96 431.79,590.31 430.37,588.65 428.93,586.97 427.47,585.29 425.99,583.59 424.5,581.89 422.99,580.17 421.47,578.44 419.93,576.7 418.36,574.95 416.79,573.19 415.19,571.41 413.57,569.62 411.94,567.82 410.29,566.01 408.62,564.19 406.93,562.35 405.22,560.5 403.49,558.64 401.74,556.76 399.98,554.87 398.19,552.96 396.38,551.04 394.56,549.11 392.71,547.16 390.84,545.2 388.96,543.23 387.05,541.24 385.12,539.23 383.17,537.21 381.2,535.17 379.21,533.12 377.2,531.05 375.16,528.96 373.1,526.86 371.03,524.74 368.93,522.6 366.81,520.44 364.66,518.27 362.5,516.08 360.31,513.87 358.1,511.64 355.87,509.39 353.62,507.12 351.34,504.84 349.04,502.53 346.72,500.2 344.38,497.85 342.01,495.48 339.62,493.09 337.21,490.68 334.78,488.24 332.32,485.78 329.84,483.3 327.34,480.8 324.82,478.27 322.27,475.71 319.7,473.13 317.11,470.53 314.49,467.89 311.85,465.24 309.19,462.55 306.5,459.84 303.79,457.1 301.06,454.32 298.31,451.52 295.53,448.69 292.73,445.83 289.91,442.94 287.06,440.01 284.19,437.05 281.3,434.06 278.38,431.03 275.44,427.97 272.47,424.87 269.48,421.73 266.47,418.56 263.44,415.35 260.38,412.09 257.29,408.8 254.19,405.46 251.05,402.09 247.9,398.66 244.72,395.19 241.51,391.68 238.28,388.12 235.02,384.5 231.74,380.84 228.43,377.13 225.1,373.36 221.74,369.54 218.35,365.66 214.94,361.72 211.5,357.72 208.03,353.66 204.54,349.54 201.01,345.35 197.46,341.09 193.88,336.76 190.27,332.36 186.63,327.88 182.96,323.33 179.26,318.7 175.53,313.98 171.76,309.17 167.97,304.28 164.14,299.29 160.27,294.2 156.37,289.02 152.44,283.73 148.47,278.33 144.47,272.82 140.43,267.19 136.35,261.43 132.23,255.55 128.07,249.53 123.87,243.36 119.63,237.05 115.35,230.59 111.03,223.96 106.66,217.16 102.24,210.17 97.78,203 93.27,195.62 88.72,188.03 84.11,180.21 79.46,172.15 74.75,163.84 69.99,155.25 65.17,146.38 60.3,137.19 55.38,127.67 50.39,117.78 45.35,107.51 40.26,96.82 35.1,85.68 29.88,74.04 24.61,61.86 19.28,49.08" stroke="#a8a8e8" stroke-width="1"/>
<polyline points="554.01,664.81 553.46,663.56 552.9,662.3 552.33,661.04 551.76,659.77 551.18,658.5 550.6,657.22 550.01,655.93 549.41,654.64 548.81,653.34 548.2,652.03 547.58,650.72 546.96,649.4 546.33,648.08 545.7,646.74 545.06,645.4 544.41,644.06 543.75,642.7 543.09,641.34 542.42,639.98 541.74,638.6 541.05,637.22 540.36,635.83 539.65,634.43 538.94,633.03 538.23,631.62 537.5,630.2 536.77,628.77 536.02,627.34 535.27,625.89 534.51,624.44 533.74,622.99 532.96,621.52 532.17,620.04 531.37,618.56 530.56,617.07 529.74,615.57 528.91,614.06 528.07,612.54 527.22,611.01 526.36,609.48 525.49,607.93 524.61,606.38 523.71,604.81 522.81,603.24 521.89,601.66 520.96,600.07 520.02,598.47 519.07,596.85 518.1,595.23 517.12,593.6 516.12,591.96 515.12,590.31 514.1,588.65 513.06,586.97 512.01,585.29 510.95,583.59 509.87,581.89 508.78,580.17 507.67,578.44 506.54,576.7 505.4,574.95 504.24,573.19 503.07,571.41 501.88,569.62 500.67,567.82 499.44,566.01 498.2,564.19 496.93,562.35 495.65,560.5 494.35,558.64 493.03,556.76 491.69,554.87 490.33,552.96 488.95,551.04 487.55,549.11 486.13,547.16 484.68,545.2 483.21,543.23 481.72,541.24 480.21,539.23 478.67,537.21 477.11,535.17 475.53,533.12 473.92,531.05 472.28,528.96 470.62,526.86 468.94,524.74 467.22,522.6 465.48,520.44 463.71,518.27 461.92,516.08 460.09,513.87 458.24,511.64 456.36,509.39 454.45,507.12 452.5,504.84 450.53,502.53 448.53,500.2 446.49,497.85 444.42,495.48 442.32,493.09 440.19,490.68 438.03,488.24 435.83,485.78 433.59,483.3 431.32,480.8 429.02,478.27 426.68,475.71 424.31,473.13 421.9,470.53 419.45,467.89 416.97,465.24 414.45,462.55 411.9,459.84 409.3,457.1 406.67,454.32 404,451.52 401.29,448.69 398.55,445.83 395.76,442.94 392.94,440.01 390.08,437.05 387.18,434.06 384.24,431.03 381.26,427.97 378.24,424.87 375.18,421.73 372.08,418.56 368.94,415.35 365.77,412.09 362.55,408.8 359.29,405.46 355.99,402.09 352.66,398.66 349.28,395.19 345.87,391.68 342.41,388.12 338.91,384.5 335.38,380.84 331.8,377.13 328.19,373.36 324.53,369.54 320.83,365.66 317.1,361.72 313.32,357.72 309.5,353.66 305.65,349.54 301.75,345.35 297.81,341.09 293.83,336.76 289.81,332.36 285.75,327.88 281.64,323.33 277.49,318.7 273.3,313.98 269.07,309.17 264.79,304.28 260.47,299.29 256.11,294.2 251.7,289.02 247.24,283.73 242.74,278.33 238.19,272.82 233.59,267.19 228.94,261.43 224.24,255.55 219.49,249.53 214.69,243.36 209.84,237.05 204.93,230.59 199.97,223.96 194.94,217.16 189.86,210.17 184.72,203 179.52,195.62 174.26,188.03 168.93,180.21 163.53,172.15 158.06,163.84 152.53,155.25 146.92,146.38 141.23,137.19 135.47,127.67 129.63,117.78 123.71,107.51 117.7,96.82 111.61,85.68 105.43,74.04 99.15,61.86 92.79,49.08" stroke="#a8a8e8" stroke-width="1"/>
<polyline points="602.49,664.81 602.11,663.56 601.72,662.3 601.33,661.04 600.93,659.77 600.54,658.5 600.14,657.22 599.73,655.93 599.32,654.64 598.91,653.34 598.49,652.03 598.07,650.72 597.64,649.4 597.21,648.08 596.77,646.74 596.34,645.4 595.89,644.06 595.44,642.7 594.99,641.34 594.53,639.98 594.07,638.6 593.6,637.22 593.12,635.83 592.65,634.43 592.16,633.03 591.67,631.62 591.18,630.2 590.68,628.77 590.17,627.34 589.66,625.89 589.14,624.44 588.61,622.99 588.08,621.52 587.55,620.04 587,618.56 586.45,617.07 585.9,615.57 585.34,614.06 584.76,612.54 584.19,611.01 583.6,609.48 583.01,607.93 582.41,606.38 581.8,604.81 581.19,603.24 580.57,601.66 579.94,600.07 579.3,598.47 578.65,596.85 577.99,595.23 577.33,593.6 576.65,591.96 575.97,590.31 575.27,588.65 574.57,586.97 573.86,585.29 573.13,583.59 572.4,581.89 571.66,580.17 570.9,578.44 570.13,576.7 569.36,574.95 568.57,573.19 567.77,571.41 566.95,569.62 566.13,567.82 565.29,566.01 564.44,564.19 563.57,562.35 562.69,560.5 561.8,558.64 560.89,556.76 559.97,554.87 559.04,552.96 558.08,551.04 557.12,549.11 556.13,547.16 555.13,545.2 554.11,543.23 553.08,541.24 552.03,539.23 550.95,537.21 549.86,535.17 548.75,533.12 547.63,531.05 546.48,528.96 545.31,526.86 544.12,524.74 542.9,522.6 541.67,520.44 540.41,518.27 539.13,516.08 537.82,513.87 536.49,511.64 535.13,509.39 533.75,507.12 532.34,504.84 530.9,502.53 529.43,500.2 527.94,497.85 526.41,495.48 524.86,493.09 523.27,490.68 521.65,488.24 520,485.78 518.31,483.3 516.59,480.8 514.84,478.27 513.04,475.71 511.21,473.13 509.35,470.53 507.44,467.89 505.49,465.24 503.5,462.55 501.47,459.84 499.39,457.1 497.27,454.32 495.11,451.52 492.89,448.69 490.63,445.83 488.33,442.94 485.97,440.01 483.56,437.05 481.1,434.06 478.59,431.03 476.02,427.97 473.4,424.87 470.73,421.73 468,418.56 465.21,415.35 462.36,412.09 459.45,408.8 456.48,405.46 453.46,402.09 450.37,398.66 447.21,395.19 444,391.68 440.72,388.12 437.38,384.5 433.97,380.84 430.5,377.13 426.96,373.36 423.35,369.54 419.68,365.66 415.95,361.72 412.14,357.72 408.27,353.66 404.33,349.54 400.33,345.35 396.25,341.09 392.11,336.76 387.91,332.36 383.63,327.88 379.29,323.33 374.88,318.7 370.41,313.98 365.87,309.17 361.26,304.28 356.58,299.29 351.84,294.2 347.03,289.02 342.15,283.73 337.2,278.33 332.19,272.82 327.11,267.19 321.96,261.43 316.74,255.55 311.45,249.53 306.09,243.36 300.66,237.05 295.16,230.59 289.58,223.96 283.93,217.16 278.21,210.17 272.4,203 266.52,195.62 260.55,188.03 254.5,180.21 248.37,172.15 242.14,163.84 235.83,155.25 229.42,146.38 222.92,137.19 216.32,127.67 209.61,117.78 202.8,107.51 195.88,96.82 188.84,85.68 181.69,74.04 174.41,61.86 167,49.08" stroke="#a8a8e8" stroke-width="1"/>
<polyline points="639.4,664.81 639.13,663.56 638.86,662.3 638.58,661.04 638.31,659.77 638.03,658.5 637.75,657.22 637.46,655.93 637.17,654.64 636.88,653.34 636.59,652.03 636.29,650.72 636,649.4 635.7,648.08 635.39,646.74 635.08,645.4 634.77,644.06 634.46,642.7 634.14,641.34 633.83,639.98 633.5,638.6 633.18,637.22 632.85,635.83 632.52,634.43 632.18,633.03 631.84,631.62 631.5,630.2 631.15,628.77 630.8,627.34 630.45,625.89 630.09,624.44 629.72,622.99 629.36,621.52 628.99,620.04 628.61,618.56 628.23,617.07 627.85,615.57 627.46,614.06 627.07,612.54 626.68,611.01 626.27,609.48 625.87,607.93 625.46,606.38 625.04,604.81 624.62,603.24 624.19,601.66 623.76,600.07 623.32,598.47 622.88,596.85 622.43,595.23 621.98,593.6 621.52,591.96 621.05,590.31 620.58,588.65 620.1,586.97 619.61,585.29 619.12,583.59 618.62,581.89 618.11,580.17 617.6,578.44 617.08,576.7 616.55,574.95 616.02,573.19 615.47,571.41 614.92,569.62 614.36,567.82 613.79,566.01 613.22,564.19 612.63,562.35 612.04,560.5 611.43,558.64 610.82,556.76 610.19,554.87 609.56,552.96 608.92,551.04 608.26,549.11 607.6,547.16 606.92,545.2 606.23,543.23 605.53,541.24 604.82,539.23 604.1,537.21 603.36,535.17 602.61,533.12 601.85,531.05 601.07,528.96 600.28,526.86 599.48,524.74 598.66,522.6 597.82,520.44 596.97,518.27 596.1,516.08 595.21,513.87 594.31,511.64 593.39,509.39 592.45,507.12 591.49,504.84 590.52,502.53 589.52,500.2 588.5,497.85 587.46,495.48 586.4,493.09 585.31,490.68 584.2,488.24 583.07,485.78 581.91,483.3 580.73,480.8 579.51,478.27 578.27,475.71 577.01,473.13 575.71,470.53 574.38,467.89 573.02,465.24 571.63,462.55 570.2,459.84 568.74,457.1 567.25,454.32 565.71,451.52 564.14,448.69 562.52,445.83 560.87,442.94 559.17,440.01 557.43,437.05 555.64,434.06 553.81,431.03 551.92,427.97 549.99,424.87 548,421.73 545.96,418.56 543.86,415.35 541.7,412.09 539.48,408.8 537.2,405.46 534.86,402.09 532.45,398.66 529.97,395.19 527.42,391.68 524.8,388.12 522.1,384.5 519.33,380.84 516.48,377.13 513.54,373.36 510.52,369.54 507.42,365.66 504.22,361.72 500.94,357.72 497.56,353.66 494.09,349.54 490.52,345.35 486.85,341.09 483.08,336.76 479.21,332.36 475.24,327.88 471.16,323.33 466.98,318.7 462.69,313.98 458.29,309.17 453.78,304.28 449.16,299.29 444.43,294.2 439.59,289.02 434.64,283.73 429.58,278.33 424.41,272.82 419.13,267.19 413.74,261.43 408.24,255.55 402.63,249.53 396.91,243.36 391.08,237.05 385.14,230.59 379.1,223.96 372.94,217.16 366.68,210.17 360.3,203 353.82,195.62 347.22,188.03 340.51,180.21 333.69,172.15 326.75,163.84 319.69,155.25 312.51,146.38 305.21,137.19 297.78,127.67 290.22,117.78 282.53,107.51 274.69,96.82 266.71,85.68 258.58,74.04 250.29,61.86 241.84,49.08" stroke="#a8a8e8" stroke-width="1"/>
<polyline points="668.56,664.81 668.37,663.56 668.17,662.3 667.98,661.04 667.78,659.77 667.58,658.5 667.38,657.22 667.17,655.93 666.97,654.64 666.76,653.34 666.55,652.03 666.34,650.72 666.13,649.4 665.91,648.08 665.7,646.74 665.48,645.4 665.26,644.06 665.04,642.7 664.82,641.34 664.59,639.98 664.36,638.6 664.13,637.22 663.9,635.83 663.66,634.43 663.43,633.03 663.19,631.62 662.95,630.2 662.7,628.77 662.46,627.34 662.21,625.89 661.96,624.44 661.7,622.99 661.44,621.52 661.19,620.04 660.92,618.56 660.66,617.07 660.39,615.57 660.12,614.06 659.85,612.54 659.57,611.01 659.29,609.48 659.01,607.93 658.72,606.38 658.43,604.81 658.14,603.24 657.84,601.66 657.54,600.07 657.24,598.47 656.93,596.85 656.62,595.23 656.31,593.6 655.99,591.96 655.67,590.31 655.34,588.65 655.01,586.97 654.68,585.29 654.34,583.59 653.99,581.89 653.65,580.17 653.29,578.44 652.93,576.7 652.57,574.95 652.2,573.19 651.83,571.41 651.45,569.62 651.07,567.82 650.68,566.01 650.29,564.19 649.89,562.35 649.48,560.5 649.07,558.64 648.65,556.76 648.23,554.87 647.8,552.96 647.36,551.04 646.91,549.11 646.46,547.16 646,545.2 645.53,543.23 645.06,541.24 644.58,539.23 644.09,537.21 643.59,535.17 643.08,533.12 642.56,531.05 642.04,528.96 641.5,526.86 640.96,524.74 640.41,522.6 639.84,520.44 639.27,518.27 638.68,516.08 638.08,513.87 637.48,511.64 636.86,509.39 636.22,507.12 635.58,504.84 634.92,502.53 634.25,500.2 633.56,497.85 632.86,495.48 632.15,493.09 631.42,490.68 630.67,488.24 629.91,485.78 629.13,483.3 628.34,480.8 627.52,478.27 626.69,475.71 625.84,473.13 624.97,470.53 624.07,467.89 623.16,465.24 622.22,462.55 621.26,459.84 620.27,457.1 619.26,454.32 618.23,451.52 617.17,448.69 616.08,445.83 614.96,442.94 613.81,440.01 612.62,437.05 611.41,434.06 610.16,431.03 608.88,427.97 607.55,424.87 606.19,421.73 604.79,418.56 603.35,415.35 601.87,412.09 600.33,408.8 598.75,405.46 597.12,402.09 595.44,398.66 593.71,395.19 591.92,391.68 590.06,388.12 588.15,384.5 586.17,380.84 584.13,377.13 582.01,373.36 579.82,369.54 577.55,365.66 575.2,361.72 572.77,357.72 570.25,353.66 567.63,349.54 564.92,345.35 562.11,341.09 559.2,336.76 556.17,332.36 553.03,327.88 549.78,323.33 546.4,318.7 542.89,313.98 539.25,309.17 535.48,304.28 531.56,299.29 527.49,294.2 523.28,289.02 518.91,283.73 514.38,278.33 509.69,272.82 504.83,267.19 499.81,261.43 494.61,255.55 489.24,249.53 483.7,243.36 477.98,237.05 472.08,230.59 466.01,223.96 459.76,217.16 453.33,210.17 446.73,203 439.94,195.62 432.99,188.03 425.86,180.21 418.56,172.15 411.08,163.84 403.44,155.25 395.62,146.38 387.63,137.19 379.46,127.67 371.12,117.78 362.6,107.51 353.89,96.82 345,85.68 335.91,74.04 326.63,61.86 317.14,49.08" stroke="#a8a8e8" stroke-width="1"/>
<polyline points="692.3,664.81 692.16,663.56 692.02,662.3 691.88,661.04 691.73,659.77 691.59,658.5 691.44,657.22 691.3,655.93 691.15,654.64 691,653.34 690.85,652.03 690.7,650.72 690.55,649.4 690.4,648.08 690.24,646.74 690.09,645.4 689.93,644.06 689.77,642.7 689.61,641.34 689.45,639.98 689.29,638.6 689.12,637.22 688.96,635.83 688.79,634.43 688.63,633.03 688.46,631.62 688.28,630.2 688.11,628.77 687.94,627.34 687.76,625.89 687.58,624.44 687.41,622.99 687.22,621.52 687.04,620.04 686.86,618.56 686.67,617.07 686.48,615.57 686.29,614.06 686.1,612.54 685.91,611.01 685.71,609.48 685.51,607.93 685.31,606.38 685.11,604.81 684.91,603.24 684.7,601.66 684.49,600.07 684.28,598.47 684.07,596.85 683.85,595.23 683.63,593.6 683.41,591.96 683.19,590.31 682.96,588.65 682.73,586.97 682.5,585.29 682.27,583.59 682.03,581.89 681.79,580.17 681.55,578.44 681.3,576.7 681.05,574.95 680.8,573.19 680.54,571.41 680.28,569.62 680.02,567.82 679.75,566.01 679.48,564.19 679.21,562.35 678.93,560.5 678.65,558.64 678.36,556.76 678.07,554.87 677.78,552.96 677.48,551.04 677.17,549.11 676.87,547.16 676.55,545.2 676.23,543.23 675.91,541.24 675.58,539.23 675.25,537.21 674.91,535.17 674.57,533.12 674.22,531.05 673.86,528.96 673.5,526.86 673.13,524.74 672.76,522.6 672.37,520.44 671.99,518.27 671.59,516.08 671.19,513.87 670.78,511.64 670.36,509.39 669.93,507.12 669.5,504.84 669.05,502.53 668.6,500.2 668.14,497.85 667.67,495.48 667.19,493.09 666.7,490.68 666.2,488.24 665.69,485.78 665.17,483.3 664.63,480.8 664.09,478.27 663.53,475.71 662.96,473.13 662.38,470.53 661.78,467.89 661.17,465.24 660.54,462.55 659.9,459.84 659.24,457.1 658.57,454.32 657.87,451.52 657.16,448.69 656.44,445.83 655.69,442.94 654.92,440.01 654.13,437.05 653.32,434.06 652.49,431.03 651.63,427.97 650.74,424.87 649.84,421.73 648.9,418.56 647.94,415.35 646.94,412.09 645.92,408.8 644.86,405.46 643.77,402.09 642.64,398.66 641.47,395.19 640.27,391.68 639.02,388.12 637.73,384.5 636.4,380.84 635.01,377.13 633.58,373.36 632.09,369.54 630.55,365.66 628.94,361.72 627.28,357.72 625.55,353.66 623.75,349.54 621.88,345.35 619.93,341.09 617.89,336.76 615.77,332.36 613.56,327.88 611.26,323.33 608.85,318.7 606.33,313.98 603.69,309.17 600.94,304.28 598.05,299.29 595.03,294.2 591.87,289.02 588.55,283.73 585.08,278.33 581.43,272.82 577.61,267.19 573.59,261.43 569.38,255.55 564.97,249.53 560.33,243.36 555.48,237.05 550.39,230.59 545.05,223.96 539.47,217.16 533.62,210.17 527.52,203 521.14,195.62 514.49,188.03 507.57,180.21 500.37,172.15 492.89,163.84 485.13,155.25 477.1,146.38 468.79,137.19 460.21,127.67 451.36,117.78 442.25,107.51 432.86,96.82 423.22,85.68 413.3,74.04 403.12,61.86 392.66,49.08" stroke="#a8a8e8" stroke-width="1"/>
<polyline points="712.09,664.81 711.99,663.56 711.89,662.3 711.79,661.04 711.69,659.77 711.58,658.5 711.48,657.22 711.37,655.93 711.27,654.64 711.16,653.34 711.06,652.03 710.95,650.72 710.84,649.4 710.73,648.08 710.62,646.74 710.51,645.4 710.4,644.06 710.29,642.7 710.17,641.34 710.06,639.98 709.95,638.6 709.83,637.22 709.71,635.83 709.6,634.43 709.48,633.03 709.36,631.62 709.24,630.2 709.12,628.77 709,627.34 708.87,625.89 708.75,624.44 708.62,622.99 708.5,621.52 708.37,620.04 708.24,618.56 708.11,617.07 707.98,615.57 707.85,614.06 707.72,612.54 707.58,611.01 707.45,609.48 707.31,607.93 707.17,606.38 707.03,604.81 706.89,603.24 706.75,601.66 706.6,600.07 706.46,598.47 706.31,596.85 706.16,595.23 706.01,593.6 705.86,591.96 705.71,590.31 705.55,588.65 705.4,586.97 705.24,585.29 705.08,583.59 704.91,581.89 704.75,580.17 704.58,578.44 704.42,576.7 704.25,574.95 704.07,573.19 703.9,571.41 703.72,569.62 703.55,567.82 703.36,566.01 703.18,564.19 702.99,562.35 702.81,560.5 702.62,558.64 702.42,556.76 702.23,554.87 702.03,552.96 701.83,551.04 701.62,549.11 701.41,547.16 701.2,545.2 700.99,543.23 700.77,541.24 700.55,539.23 700.33,537.21 700.1,535.17 699.87,533.12 699.64,531.05 699.4,528.96 699.15,526.86 698.91,524.74 698.66,522.6 698.4,520.44 698.14,518.27 697.88,516.08 697.61,513.87 697.34,511.64 697.06,509.39 696.77,507.12 696.48,504.84 696.19,502.53 695.89,500.2 695.58,497.85 695.27,495.48 694.95,493.09 694.62,490.68 694.29,488.24 693.95,485.78 693.61,483.3 693.25,480.8 692.89,478.27 692.52,475.71 692.14,473.13 691.76,470.53 691.36,467.89 690.95,465.24 690.54,462.55 690.11,459.84 689.68,457.1 689.23,454.32 688.77,451.52 688.3,448.69 687.82,445.83 687.33,442.94 686.82,440.01 686.3,437.05 685.76,434.06 685.21,431.03 684.65,427.97 684.06,424.87 683.46,421.73 682.84,418.56 682.21,415.35 681.55,412.09 680.87,408.8 680.17,405.46 679.45,402.09 678.7,398.66 677.93,395.19 677.14,391.68 676.31,388.12 675.46,384.5 674.57,380.84 673.66,377.13 672.71,373.36 671.72,369.54 670.69,365.66 669.63,361.72 668.52,357.72 667.37,353.66 666.17,349.54 664.92,345.35 663.62,341.09 662.26,336.76 660.84,332.36 659.35,327.88 657.8,323.33 656.18,318.7 654.47,313.98 652.69,309.17 650.81,304.28 648.84,299.29 646.77,294.2 644.59,289.02 642.29,283.73 639.87,278.33 637.31,272.82 634.61,267.19 631.75,261.43 628.73,255.55 625.53,249.53 622.14,243.36 618.54,237.05 614.72,230.59 610.66,223.96 606.34,217.16 601.76,210.17 596.88,203 591.7,195.62 586.19,188.03 580.34,180.21 574.13,172.15 567.53,163.84 560.55,155.25 553.16,146.38 545.36,137.19 537.13,127.67 528.48,117.78 519.41,107.51 509.91,96.82 499.99,85.68 489.65,74.04 478.9,61.86 467.75,49.08" stroke="#a8a8e8" stroke-width="1"/>
<polyline points="728.92,664.81 728.85,663.56 728.77,662.3 728.7,661.04 728.63,659.77 728.56,658.5 728.48,657.22 728.41,655.93 728.34,654.64 728.26,653.34 728.19,652.03 728.11,650.72 728.04,649.4 727.96,648.08 727.89,646.74 727.81,645.4 727.73,644.06 727.66,642.7 727.58,641.34 727.5,639.98 727.42,638.6 727.34,637.22 727.26,635.83 727.18,634.43 727.1,633.03 727.02,631.62 726.93,630.2 726.85,628.77 726.77,627.34 726.68,625.89 726.6,624.44 726.52,622.99 726.43,621.52 726.34,620.04 726.26,618.56 726.17,617.07 726.08,615.57 725.99,614.06 725.9,612.54 725.81,611.01 725.72,609.48 725.63,607.93 725.53,606.38 725.44,604.81 725.35,603.24 725.25,601.66 725.16,600.07 725.06,598.47 724.96,596.85 724.86,595.23 724.76,593.6 724.66,591.96 724.56,590.31 724.46,588.65 724.35,586.97 724.25,585.29 724.14,583.59 724.04,581.89 723.93,580.17 723.82,578.44 723.71,576.7 723.6,574.95 723.48,573.19 723.37,571.41 723.25,569.62 723.14,567.82 723.02,566.01 722.9,564.19 722.78,562.35 722.65,560.5 722.53,558.64 722.4,556.76 722.28,554.87 722.15,552.96 722.02,551.04 721.88,549.11 721.75,547.16 721.61,545.2 721.47,543.23 721.33,541.24 721.19,539.23 721.05,537.21 720.9,535.17 720.75,533.12 720.6,531.05 720.44,528.96 720.29,526.86 720.13,524.74 719.97,522.6 719.8,520.44 719.64,518.27 719.47,516.08 719.29,513.87 719.12,511.64 718.94,509.39 718.76,507.12 718.57,504.84 718.38,502.53 718.19,500.2 717.99,497.85 717.79,495.48 717.59,493.09 717.38,490.68 717.16,488.24 716.95,485.78 716.72,483.3 716.5,480.8 716.26,478.27 716.03,475.71 715.78,473.13 715.54,470.53 715.28,467.89 715.02,465.24 714.76,462.55 714.48,459.84 714.2,457.1 713.92,454.32 713.62,451.52 713.32,448.69 713.01,445.83 712.7,442.94 712.37,440.01 712.03,437.05 711.69,434.06 711.33,431.03 710.97,427.97 710.59,424.87 710.21,421.73 709.81,418.56 709.4,415.35 708.97,412.09 708.54,408.8 708.08,405.46 707.62,402.09 707.14,398.66 706.64,395.19 706.12,391.68 705.59,388.12 705.03,384.5 704.46,380.84 703.87,377.13 703.25,373.36 702.61,369.54 701.94,365.66 701.25,361.72 700.53,357.72 699.78,353.66 699,349.54 698.18,345.35 697.33,341.09 696.44,336.76 695.51,332.36 694.53,327.88 693.52,323.33 692.45,318.7 691.32,313.98 690.15,309.17 688.91,304.28 687.61,299.29 686.23,294.2 684.78,289.02 683.25,283.73 681.64,278.33 679.93,272.82 678.11,267.19 676.19,261.43 674.14,255.55 671.97,249.53 669.65,243.36 667.18,237.05 664.54,230.59 661.72,223.96 658.7,217.16 655.45,210.17 651.97,203 648.22,195.62 644.19,188.03 639.84,180.21 635.15,172.15 630.09,163.84 624.62,155.25 618.71,146.38 612.32,137.19 605.43,127.67 597.99,117.78 589.98,107.51 581.38,96.82 572.15,85.68 562.29,74.04 551.8,61.86 540.66,49.08" stroke="#a8a8e8" stroke-width="1"/>
<polyline points="743.44,664.81 743.39,663.56 743.35,662.3 743.3,661.04 743.25,659.77 743.2,658.5 743.15,657.22 743.1,655.93 743.05,654.64 743,653.34 742.95,652.03 742.9,650.72 742.85,649.4 742.8,648.08 742.75,646.74 742.7,645.4 742.65,644.06 742.6,642.7 742.55,641.34 742.5,639.98 742.45,638.6 742.39,637.22 742.34,635.83 742.29,634.43 742.24,633.03 742.18,631.62 742.13,630.2 742.08,628.77 742.02,627.34 741.97,625.89 741.92,624.44 741.86,622.99 741.81,621.52 741.75,620.04 741.7,618.56 741.64,617.07 741.59,615.57 741.53,614.06 741.47,612.54 741.42,611.01 741.36,609.48 741.3,607.93 741.24,606.38 741.19,604.81 741.13,603.24 741.07,601.66 741.01,600.07 740.95,598.47 740.89,596.85 740.83,595.23 740.76,593.6 740.7,591.96 740.64,590.31 740.58,588.65 740.51,586.97 740.45,585.29 740.39,583.59 740.32,581.89 740.25,580.17 740.19,578.44 740.12,576.7 740.05,574.95 739.99,573.19 739.92,571.41 739.85,569.62 739.78,567.82 739.7,566.01 739.63,564.19 739.56,562.35 739.49,560.5 739.41,558.64 739.34,556.76 739.26,554.87 739.18,552.96 739.11,551.04 739.03,549.11 738.95,547.16 738.87,545.2 738.78,543.23 738.7,541.24 738.62,539.23 738.53,537.21 738.44,535.17 738.35,533.12 738.27,531.05 738.17,528.96 738.08,526.86 737.99,524.74 737.89,522.6 737.8,520.44 737.7,518.27 737.6,516.08 737.5,513.87 737.39,511.64 737.29,509.39 737.18,507.12 737.07,504.84 736.96,502.53 736.84,500.2 736.73,497.85 736.61,495.48 736.49,493.09 736.37,490.68 736.24,488.24 736.11,485.78 735.98,483.3 735.85,480.8 735.71,478.27 735.57,475.71 735.42,473.13 735.28,470.53 735.13,467.89 734.97,465.24 734.81,462.55 734.65,459.84 734.48,457.1 734.31,454.32 734.14,451.52 733.96,448.69 733.77,445.83 733.58,442.94 733.39,440.01 733.19,437.05 732.98,434.06 732.77,431.03 732.55,427.97 732.32,424.87 732.08,421.73 731.84,418.56 731.59,415.35 731.34,412.09 731.07,408.8 730.79,405.46 730.51,402.09 730.22,398.66 729.91,395.19 729.59,391.68 729.26,388.12 728.92,384.5 728.57,380.84 728.2,377.13 727.82,373.36 727.42,369.54 727.01,365.66 726.57,361.72 726.12,357.72 725.65,353.66 725.16,349.54 724.65,345.35 724.11,341.09 723.55,336.76 722.97,332.36 722.35,327.88 721.7,323.33 721.02,318.7 720.31,313.98 719.55,309.17 718.76,304.28 717.92,299.29 717.04,294.2 716.11,289.02 715.12,283.73 714.07,278.33 712.96,272.82 711.78,267.19 710.52,261.43 709.19,255.55 707.76,249.53 706.23,243.36 704.6,237.05 702.85,230.59 700.97,223.96 698.95,217.16 696.78,210.17 694.42,203 691.88,195.62 689.13,188.03 686.13,180.21 682.88,172.15 679.32,163.84 675.44,155.25 671.19,146.38 666.54,137.19 661.42,127.67 655.79,117.78 649.59,107.51 642.76,96.82 635.25,85.68 626.97,74.04 617.89,61.86 607.94,49.08" stroke="#a8a8e8" stroke-width="1"/>
<polyline points="354.76,664.81 355.26,663.56 355.76,662.3 356.27,661.04 356.77,659.77 357.28,658.5 357.79,657.22 358.31,655.93 358.83,654.64 359.35,653.34 359.87,652.03 360.4,650.72 360.93,649.4 361.46,648.08 361.99,646.74 362.53,645.4 363.07,644.06 363.62,642.7 364.17,641.34 364.72,639.98 365.27,638.6 365.83,637.22 366.39,635.83 366.95,634.43 367.51,633.03 368.08,631.62 368.66,630.2 369.23,628.77 369.81,627.34 370.4,625.89 370.98,624.44 371.57,622.99 372.17,621.52 372.76,620.04 373.37,618.56 373.97,617.07 374.58,615.57 375.19,614.06 375.81,612.54 376.43,611.01 377.05,609.48 377.68,607.93 378.31,606.38 378.95,604.81 379.59,603.24 380.23,601.66 380.88,600.07 381.53,598.47 382.19,596.85 382.85,595.23 383.52,593.6 384.19,591.96 384.86,590.31 385.54,588.65 386.23,586.97 386.92,585.29 387.61,583.59 388.31,581.89 389.01,580.17 389.72,578.44 390.44,576.7 391.16,574.95 391.88,573.19 392.61,571.41 393.35,569.62 394.09,567.82 394.83,566.01 395.58,564.19 396.34,562.35 397.1,560.5 397.87,558.64 398.65,556.76 399.43,554.87 400.22,552.96 401.01,551.04 401.81,549.11 402.62,547.16 403.43,545.2 404.25,543.23 405.07,541.24 405.91,539.23 406.74,537.21 407.59,535.17 408.45,533.12 409.31,531.05 410.17,528.96 411.05,526.86 411.93,524.74 412.83,522.6 413.72,520.44 414.63,518.27 415.55,516.08 416.47,513.87 417.4,511.64 418.34,509.39 419.29,507.12 420.25,504.84 421.22,502.53 422.2,500.2 423.18,497.85 424.18,495.48 425.18,493.09 426.2,490.68 427.22,488.24 428.26,485.78 429.31,483.3 430.36,480.8 431.43,478.27 432.51,475.71 433.6,473.13 434.7,470.53" stroke="#3c903c" stroke-width="1.1" stroke-dasharray="1.1,1.7"/>
<polyline points="415.67,664.81 416.14,663.56 416.61,662.3 417.08,661.04 417.55,659.77 418.03,658.5 418.51,657.22 419,655.93 419.48,654.64 419.97,653.34 420.46,652.03 420.96,650.72 421.45,649.4 421.95,648.08 422.45,646.74 422.96,645.4 423.47,644.06 423.98,642.7 424.49,641.34 425.01,639.98 425.53,638.6 426.05,637.22 426.58,635.83 427.1,634.43 427.64,633.03 428.17,631.62 428.71,630.2 429.25,628.77 429.79,627.34 430.34,625.89 430.89,624.44 431.45,622.99 432.01,621.52 432.57,620.04 433.13,618.56 433.7,617.07 434.27,615.57 434.85,614.06 435.43,612.54 436.01,611.01 436.6,609.48 437.19,607.93 437.78,606.38 438.38,604.81 438.98,603.24 439.59,601.66 440.2,600.07 440.82,598.47 441.43,596.85 442.06,595.23 442.68,593.6 443.32,591.96 443.95,590.31 444.59,588.65 445.24,586.97 445.88,585.29 446.54,583.59 447.2,581.89 447.86,580.17 448.53,578.44 449.2,576.7 449.88,574.95 450.56,573.19 451.25,571.41 451.94,569.62 452.64,567.82 453.34,566.01 454.05,564.19 454.77,562.35 455.49,560.5 456.21,558.64 456.94,556.76 457.68,554.87 458.42,552.96 459.17,551.04 459.92,549.11 460.68,547.16 461.45,545.2 462.23,543.23 463,541.24 463.79,539.23 464.58,537.21 465.38,535.17 466.19,533.12 467,531.05 467.82,528.96 468.65,526.86 469.49,524.74 470.33,522.6 471.18,520.44 472.03,518.27 472.9,516.08 473.77,513.87 474.65,511.64 475.54,509.39 476.44,507.12 477.35,504.84 478.26,502.53 479.19,500.2 480.12,497.85 481.06,495.48 482.01,493.09 482.98,490.68 483.95,488.24 484.93,485.78 485.92,483.3 486.92,480.8 487.93,478.27 488.95,475.71 489.99,473.13 491.03,470.53" stroke="#3c903c" stroke-width="1.1" stroke-dasharray="1.1,1.7"/>
<polyline points="481.21,664.81 481.64,663.56 482.08,662.3 482.52,661.04 482.96,659.77 483.4,658.5 483.85,657.22 484.29,655.93 484.74,654.64 485.19,653.34 485.65,652.03 486.11,650.72 486.57,649.4 487.03,648.08 487.5,646.74 487.96,645.4 488.43,644.06 488.91,642.7 489.38,641.34 489.86,639.98 490.34,638.6 490.83,637.22 491.32,635.83 491.81,634.43 492.3,633.03 492.8,631.62 493.3,630.2 493.8,628.77 494.3,627.34 494.81,625.89 495.32,624.44 495.84,622.99 496.36,621.52 496.88,620.04 497.4,618.56 497.93,617.07 498.46,615.57 499,614.06 499.54,612.54 500.08,611.01 500.62,609.48 501.17,607.93 501.72,606.38 502.28,604.81 502.84,603.24 503.4,601.66 503.97,600.07 504.54,598.47 505.12,596.85 505.7,595.23 506.28,593.6 506.87,591.96 507.46,590.31 508.06,588.65 508.66,586.97 509.26,585.29 509.87,583.59 510.48,581.89 511.1,580.17 511.72,578.44 512.35,576.7 512.98,574.95 513.62,573.19 514.26,571.41 514.9,569.62 515.56,567.82 516.21,566.01 516.87,564.19 517.54,562.35 518.21,560.5 518.89,558.64 519.57,556.76 520.25,554.87 520.95,552.96 521.65,551.04 522.35,549.11 523.06,547.16 523.78,545.2 524.5,543.23 525.23,541.24 525.96,539.23 526.7,537.21 527.45,535.17 528.2,533.12 528.96,531.05 529.73,528.96 530.5,526.86 531.28,524.74 532.07,522.6 532.87,520.44 533.67,518.27 534.48,516.08 535.29,513.87 536.12,511.64 536.95,509.39 537.79,507.12 538.64,504.84 539.5,502.53 540.36,500.2 541.24,497.85 542.12,495.48 543.01,493.09 543.91,490.68 544.82,488.24 545.74,485.78 546.67,483.3 547.61,480.8 548.56,478.27 549.51,475.71 550.48,473.13 551.46,470.53" stroke="#3c903c" stroke-width="1.1" stroke-dasharray="1.1,1.7"/>
<polyline points="521.86,664.81 522.27,663.56 522.68,662.3 523.1,661.04 523.51,659.77 523.93,658.5 524.36,657.22 524.78,655.93 525.21,654.64 525.64,653.34 526.07,652.03 526.5,650.72 526.94,649.4 527.38,648.08 527.82,646.74 528.26,645.4 528.71,644.06 529.16,642.7 529.61,641.34 530.07,639.98 530.53,638.6 530.99,637.22 531.45,635.83 531.92,634.43 532.38,633.03 532.86,631.62 533.33,630.2 533.81,628.77 534.29,627.34 534.77,625.89 535.26,624.44 535.75,622.99 536.24,621.52 536.74,620.04 537.23,618.56 537.74,617.07 538.24,615.57 538.75,614.06 539.26,612.54 539.78,611.01 540.3,609.48 540.82,607.93 541.35,606.38 541.88,604.81 542.41,603.24 542.95,601.66 543.49,600.07 544.03,598.47 544.58,596.85 545.13,595.23 545.68,593.6 546.24,591.96 546.81,590.31 547.38,588.65 547.95,586.97 548.52,585.29 549.1,583.59 549.69,581.89 550.28,580.17 550.87,578.44 551.47,576.7 552.07,574.95 552.67,573.19 553.29,571.41 553.9,569.62 554.52,567.82 555.15,566.01 555.78,564.19 556.41,562.35 557.05,560.5 557.7,558.64 558.35,556.76 559.01,554.87 559.67,552.96 560.33,551.04 561.01,549.11 561.68,547.16 562.37,545.2 563.06,543.23 563.75,541.24 564.45,539.23 565.16,537.21 565.87,535.17 566.59,533.12 567.32,531.05 568.05,528.96 568.79,526.86 569.54,524.74 570.29,522.6 571.05,520.44 571.82,518.27 572.59,516.08 573.37,513.87 574.16,511.64 574.96,509.39 575.76,507.12 576.57,504.84 577.39,502.53 578.22,500.2 579.06,497.85 579.9,495.48 580.75,493.09 581.62,490.68 582.49,488.24 583.37,485.78 584.26,483.3 585.15,480.8 586.06,478.27 586.98,475.71 587.91,473.13 588.85,470.53" stroke="#3c903c" stroke-width="1.1" stroke-dasharray="1.1,1.7"/>
<polyline points="551.77,664.81 552.17,663.56 552.56,662.3 552.96,661.04 553.36,659.77 553.76,658.5 554.17,657.22 554.58,655.93 554.99,654.64 555.4,653.34 555.81,652.03 556.23,650.72 556.65,649.4 557.07,648.08 557.49,646.74 557.92,645.4 558.35,644.06 558.78,642.7 559.22,641.34 559.65,639.98 560.09,638.6 560.53,637.22 560.98,635.83 561.43,634.43 561.88,633.03 562.33,631.62 562.79,630.2 563.24,628.77 563.71,627.34 564.17,625.89 564.64,624.44 565.11,622.99 565.58,621.52 566.06,620.04 566.54,618.56 567.02,617.07 567.51,615.57 568,614.06 568.49,612.54 568.98,611.01 569.48,609.48 569.99,607.93 570.49,606.38 571,604.81 571.51,603.24 572.03,601.66 572.55,600.07 573.07,598.47 573.6,596.85 574.13,595.23 574.67,593.6 575.21,591.96 575.75,590.31 576.29,588.65 576.84,586.97 577.4,585.29 577.96,583.59 578.52,581.89 579.09,580.17 579.66,578.44 580.23,576.7 580.81,574.95 581.4,573.19 581.99,571.41 582.58,569.62 583.18,567.82 583.78,566.01 584.39,564.19 585,562.35 585.62,560.5 586.24,558.64 586.87,556.76 587.5,554.87 588.14,552.96 588.78,551.04 589.43,549.11 590.08,547.16 590.74,545.2 591.4,543.23 592.07,541.24 592.75,539.23 593.43,537.21 594.12,535.17 594.82,533.12 595.52,531.05 596.22,528.96 596.94,526.86 597.66,524.74 598.38,522.6 599.12,520.44 599.86,518.27 600.6,516.08 601.36,513.87 602.12,511.64 602.89,509.39 603.67,507.12 604.45,504.84 605.24,502.53 606.04,500.2 606.85,497.85 607.67,495.48 608.49,493.09 609.32,490.68 610.17,488.24 611.02,485.78 611.88,483.3 612.75,480.8 613.62,478.27 614.51,475.71 615.41,473.13 616.32,470.53" stroke="#3c903c" stroke-width="1.1" stroke-dasharray="1.1,1.7"/>
<polyline points="575.6,664.81 575.98,663.56 576.36,662.3 576.75,661.04 577.14,659.77 577.53,658.5 577.92,657.22 578.31,655.93 578.71,654.64 579.1,653.34 579.5,652.03 579.91,650.72 580.31,649.4 580.72,648.08 581.13,646.74 581.54,645.4 581.96,644.06 582.37,642.7 582.79,641.34 583.22,639.98 583.64,638.6 584.07,637.22 584.5,635.83 584.93,634.43 585.37,633.03 585.8,631.62 586.24,630.2 586.69,628.77 587.13,627.34 587.58,625.89 588.04,624.44 588.49,622.99 588.95,621.52 589.41,620.04 589.87,618.56 590.34,617.07 590.81,615.57 591.29,614.06 591.76,612.54 592.24,611.01 592.72,609.48 593.21,607.93 593.7,606.38 594.19,604.81 594.69,603.24 595.19,601.66 595.69,600.07 596.2,598.47 596.71,596.85 597.22,595.23 597.74,593.6 598.26,591.96 598.79,590.31 599.32,588.65 599.85,586.97 600.39,585.29 600.93,583.59 601.47,581.89 602.02,580.17 602.58,578.44 603.13,576.7 603.7,574.95 604.26,573.19 604.83,571.41 605.41,569.62 605.99,567.82 606.57,566.01 607.16,564.19 607.76,562.35 608.35,560.5 608.96,558.64 609.57,556.76 610.18,554.87 610.8,552.96 611.42,551.04 612.05,549.11 612.68,547.16 613.32,545.2 613.97,543.23 614.62,541.24 615.28,539.23 615.94,537.21 616.61,535.17 617.28,533.12 617.96,531.05 618.65,528.96 619.34,526.86 620.04,524.74 620.74,522.6 621.46,520.44 622.17,518.27 622.9,516.08 623.63,513.87 624.37,511.64 625.12,509.39 625.87,507.12 626.64,504.84 627.4,502.53 628.18,500.2 628.97,497.85 629.76,495.48 630.56,493.09 631.37,490.68 632.19,488.24 633.02,485.78 633.85,483.3 634.7,480.8 635.55,478.27 636.42,475.71 637.29,473.13 638.17,470.53" stroke="#3c903c" stroke-width="1.1" stroke-dasharray="1.1,1.7"/>
<polyline points="604.32,664.81 604.69,663.56 605.05,662.3 605.42,661.04 605.79,659.77 606.16,658.5 606.54,657.22 606.91,655.93 607.29,654.64 607.67,653.34 608.06,652.03 608.44,650.72 608.83,649.4 609.22,648.08 609.61,646.74 610.01,645.4 610.4,644.06 610.8,642.7 611.21,641.34 611.61,639.98 612.02,638.6 612.43,637.22 612.84,635.83 613.25,634.43 613.67,633.03 614.09,631.62 614.51,630.2 614.94,628.77 615.37,627.34 615.8,625.89 616.23,624.44 616.67,622.99 617.1,621.52 617.55,620.04 617.99,618.56 618.44,617.07 618.89,615.57 619.34,614.06 619.8,612.54 620.26,611.01 620.73,609.48 621.19,607.93 621.66,606.38 622.14,604.81 622.61,603.24 623.09,601.66 623.57,600.07 624.06,598.47 624.55,596.85 625.04,595.23 625.54,593.6 626.04,591.96 626.55,590.31 627.06,588.65 627.57,586.97 628.08,585.29 628.6,583.59 629.13,581.89 629.65,580.17 630.19,578.44 630.72,576.7 631.26,574.95 631.81,573.19 632.35,571.41 632.91,569.62 633.47,567.82 634.03,566.01 634.59,564.19 635.16,562.35 635.74,560.5 636.32,558.64 636.9,556.76 637.49,554.87 638.09,552.96 638.69,551.04 639.3,549.11 639.91,547.16 640.52,545.2 641.14,543.23 641.77,541.24 642.4,539.23 643.04,537.21 643.68,535.17 644.33,533.12 644.99,531.05 645.65,528.96 646.31,526.86 646.99,524.74 647.67,522.6 648.35,520.44 649.05,518.27 649.75,516.08 650.45,513.87 651.16,511.64 651.88,509.39 652.61,507.12 653.35,504.84 654.09,502.53 654.84,500.2 655.6,497.85 656.36,495.48 657.13,493.09 657.92,490.68 658.71,488.24 659.5,485.78 660.31,483.3 661.13,480.8 661.95,478.27 662.78,475.71 663.63,473.13 664.48,470.53" stroke="#3c903c" stroke-width="1.1" stroke-dasharray="1.1,1.7"/>
<polyline points="627.59,664.81 627.94,663.56 628.29,662.3 628.65,661.04 629,659.77 629.36,658.5 629.72,657.22 630.08,655.93 630.45,654.64 630.81,653.34 631.18,652.03 631.55,650.72 631.93,649.4 632.3,648.08 632.68,646.74 633.06,645.4 633.44,644.06 633.83,642.7 634.22,641.34 634.61,639.98 635,638.6 635.39,637.22 635.79,635.83 636.19,634.43 636.59,633.03 637,631.62 637.4,630.2 637.81,628.77 638.23,627.34 638.64,625.89 639.06,624.44 639.48,622.99 639.91,621.52 640.33,620.04 640.76,618.56 641.19,617.07 641.63,615.57 642.07,614.06 642.51,612.54 642.95,611.01 643.4,609.48 643.85,607.93 644.3,606.38 644.76,604.81 645.22,603.24 645.68,601.66 646.15,600.07 646.62,598.47 647.09,596.85 647.57,595.23 648.05,593.6 648.53,591.96 649.02,590.31 649.51,588.65 650.01,586.97 650.51,585.29 651.01,583.59 651.51,581.89 652.02,580.17 652.54,578.44 653.06,576.7 653.58,574.95 654.1,573.19 654.64,571.41 655.17,569.62 655.71,567.82 656.25,566.01 656.8,564.19 657.35,562.35 657.91,560.5 658.47,558.64 659.04,556.76 659.61,554.87 660.18,552.96 660.76,551.04 661.35,549.11 661.94,547.16 662.54,545.2 663.14,543.23 663.74,541.24 664.36,539.23 664.97,537.21 665.6,535.17 666.22,533.12 666.86,531.05 667.5,528.96 668.15,526.86 668.8,524.74 669.46,522.6 670.12,520.44 670.79,518.27 671.47,516.08 672.16,513.87 672.85,511.64 673.55,509.39 674.25,507.12 674.96,504.84 675.68,502.53 676.41,500.2 677.14,497.85 677.89,495.48 678.64,493.09 679.39,490.68 680.16,488.24 680.93,485.78 681.72,483.3 682.51,480.8 683.31,478.27 684.12,475.71 684.94,473.13 685.77,470.53" stroke="#3c903c" stroke-width="1.1" stroke-dasharray="1.1,1.7"/>
<polyline points="653.11,664.81 653.44,663.56 653.78,662.3 654.12,661.04 654.46,659.77 654.8,658.5 655.15,657.22 655.5,655.93 655.84,654.64 656.2,653.34 656.55,652.03 656.9,650.72 657.26,649.4 657.62,648.08 657.98,646.74 658.35,645.4 658.71,644.06 659.08,642.7 659.45,641.34 659.83,639.98 660.2,638.6 660.58,637.22 660.96,635.83 661.35,634.43 661.73,633.03 662.12,631.62 662.51,630.2 662.9,628.77 663.3,627.34 663.7,625.89 664.1,624.44 664.5,622.99 664.91,621.52 665.32,620.04 665.73,618.56 666.15,617.07 666.56,615.57 666.98,614.06 667.41,612.54 667.83,611.01 668.26,609.48 668.69,607.93 669.13,606.38 669.57,604.81 670.01,603.24 670.46,601.66 670.9,600.07 671.36,598.47 671.81,596.85 672.27,595.23 672.73,593.6 673.19,591.96 673.66,590.31 674.13,588.65 674.61,586.97 675.09,585.29 675.57,583.59 676.06,581.89 676.55,580.17 677.04,578.44 677.54,576.7 678.04,574.95 678.55,573.19 679.06,571.41 679.58,569.62 680.09,567.82 680.62,566.01 681.14,564.19 681.68,562.35 682.21,560.5 682.75,558.64 683.3,556.76 683.85,554.87 684.4,552.96 684.96,551.04 685.52,549.11 686.09,547.16 686.67,545.2 687.25,543.23 687.83,541.24 688.42,539.23 689.02,537.21 689.62,535.17 690.22,533.12 690.83,531.05 691.45,528.96 692.07,526.86 692.7,524.74 693.34,522.6 693.98,520.44 694.63,518.27 695.28,516.08 695.94,513.87 696.61,511.64 697.28,509.39 697.96,507.12 698.65,504.84 699.35,502.53 700.05,500.2 700.76,497.85 701.47,495.48 702.2,493.09 702.93,490.68 703.67,488.24 704.42,485.78 705.17,483.3 705.94,480.8 706.71,478.27 707.49,475.71 708.29,473.13 709.09,470.53" stroke="#3c903c" stroke-width="1.1" stroke-dasharray="1.1,1.7"/>
<polyline points="674.34,664.81 674.67,663.56 674.99,662.3 675.32,661.04 675.64,659.77 675.97,658.5 676.31,657.22 676.64,655.93 676.98,654.64 677.32,653.34 677.66,652.03 678,650.72 678.34,649.4 678.69,648.08 679.04,646.74 679.39,645.4 679.74,644.06 680.1,642.7 680.45,641.34 680.81,639.98 681.18,638.6 681.54,637.22 681.91,635.83 682.28,634.43 682.65,633.03 683.02,631.62 683.4,630.2 683.78,628.77 684.16,627.34 684.54,625.89 684.93,624.44 685.32,622.99 685.71,621.52 686.1,620.04 686.5,618.56 686.9,617.07 687.31,615.57 687.71,614.06 688.12,612.54 688.53,611.01 688.95,609.48 689.36,607.93 689.78,606.38 690.21,604.81 690.63,603.24 691.06,601.66 691.49,600.07 691.93,598.47 692.37,596.85 692.81,595.23 693.26,593.6 693.71,591.96 694.16,590.31 694.61,588.65 695.07,586.97 695.54,585.29 696,583.59 696.47,581.89 696.95,580.17 697.43,578.44 697.91,576.7 698.39,574.95 698.88,573.19 699.38,571.41 699.87,569.62 700.37,567.82 700.88,566.01 701.39,564.19 701.9,562.35 702.42,560.5 702.94,558.64 703.47,556.76 704,554.87 704.54,552.96 705.08,551.04 705.63,549.11 706.18,547.16 706.73,545.2 707.29,543.23 707.86,541.24 708.43,539.23 709.01,537.21 709.59,535.17 710.18,533.12 710.77,531.05 711.37,528.96 711.97,526.86 712.58,524.74 713.2,522.6 713.82,520.44 714.44,518.27 715.08,516.08 715.72,513.87 716.36,511.64 717.02,509.39 717.68,507.12 718.34,504.84 719.02,502.53 719.7,500.2 720.39,497.85 721.08,495.48 721.78,493.09 722.49,490.68 723.21,488.24 723.94,485.78 724.67,483.3 725.42,480.8 726.17,478.27 726.93,475.71 727.69,473.13 728.47,470.53" stroke="#3c903c" stroke-width="1.1" stroke-dasharray="1.1,1.7"/>
<polyline points="700.78,664.81 701.09,663.56 701.4,662.3 701.71,661.04 702.02,659.77 702.33,658.5 702.65,657.22 702.96,655.93 703.28,654.64 703.61,653.34 703.93,652.03 704.25,650.72 704.58,649.4 704.91,648.08 705.24,646.74 705.58,645.4 705.91,644.06 706.25,642.7 706.59,641.34 706.93,639.98 707.28,638.6 707.63,637.22 707.98,635.83 708.33,634.43 708.68,633.03 709.04,631.62 709.4,630.2 709.76,628.77 710.12,627.34 710.49,625.89 710.86,624.44 711.23,622.99 711.6,621.52 711.98,620.04 712.35,618.56 712.74,617.07 713.12,615.57 713.51,614.06 713.9,612.54 714.29,611.01 714.69,609.48 715.08,607.93 715.48,606.38 715.89,604.81 716.3,603.24 716.71,601.66 717.12,600.07 717.53,598.47 717.95,596.85 718.38,595.23 718.8,593.6 719.23,591.96 719.66,590.31 720.1,588.65 720.54,586.97 720.98,585.29 721.43,583.59 721.88,581.89 722.33,580.17 722.79,578.44 723.25,576.7 723.71,574.95 724.18,573.19 724.65,571.41 725.13,569.62 725.61,567.82 726.09,566.01 726.58,564.19 727.07,562.35 727.57,560.5 728.07,558.64 728.57,556.76 729.08,554.87 729.6,552.96 730.11,551.04 730.64,549.11 731.17,547.16 731.7,545.2 732.24,543.23 732.78,541.24 733.33,539.23 733.88,537.21 734.44,535.17 735,533.12 735.57,531.05 736.14,528.96 736.72,526.86 737.3,524.74 737.9,522.6 738.49,520.44 739.09,518.27 739.7,516.08 740.32,513.87 740.94,511.64 741.57,509.39 742.2,507.12 742.84,504.84 743.49,502.53 744.14,500.2 744.8,497.85 745.47,495.48 746.15,493.09 746.83,490.68 747.52,488.24 748.22,485.78 748.92,483.3 749.64,480.8 750.36,478.27 751.09,475.71 751.83,473.13 752.58,470.53" stroke="#3c903c" stroke-width="1.1" stroke-dasharray="1.1,1.7"/>
<polyline points="722.72,664.81 723.01,663.56 723.31,662.3 723.6,661.04 723.9,659.77 724.2,658.5 724.5,657.22 724.81,655.93 725.11,654.64 725.42,653.34 725.73,652.03 726.04,650.72 726.36,649.4 726.67,648.08 726.99,646.74 727.31,645.4 727.63,644.06 727.95,642.7 728.28,641.34 728.61,639.98 728.94,638.6 729.27,637.22 729.6,635.83 729.94,634.43 730.28,633.03 730.62,631.62 730.97,630.2 731.31,628.77 731.66,627.34 732.01,625.89 732.36,624.44 732.72,622.99 733.08,621.52 733.44,620.04 733.8,618.56 734.17,617.07 734.54,615.57 734.91,614.06 735.28,612.54 735.66,611.01 736.04,609.48 736.42,607.93 736.81,606.38 737.19,604.81 737.58,603.24 737.98,601.66 738.38,600.07 738.77,598.47 739.18,596.85 739.58,595.23 739.99,593.6 740.4,591.96 740.82,590.31 741.24,588.65 741.66,586.97 742.09,585.29 742.51,583.59 742.95,581.89 743.38,580.17 743.82,578.44 744.26,576.7 744.71,574.95 745.16,573.19 745.62,571.41 746.07,569.62 746.54,567.82 747,566.01 747.47,564.19 747.94,562.35 748.42,560.5 748.9,558.64 749.39,556.76 749.88,554.87 750.38,552.96 750.88,551.04 751.38,549.11 751.89,547.16 752.4,545.2 752.92,543.23 753.44,541.24 753.97,539.23 754.5,537.21 755.04,535.17 755.58,533.12 756.13,531.05 756.68,528.96 757.24,526.86 757.81,524.74 758.38,522.6 758.95,520.44 759.53,518.27 760.12,516.08 760.71,513.87 761.31,511.64 761.92,509.39 762.53,507.12 763.15,504.84 763.77,502.53 764.4,500.2 765.04,497.85 765.69,495.48 766.34,493.09 767,490.68 767.67,488.24 768.34,485.78 769.03,483.3 769.72,480.8 770.41,478.27 771.12,475.71 771.84,473.13 772.56,470.53" stroke="#3c903c" stroke-width="1.1" stroke-dasharray="1.1,1.7"/>
</g>
<text x="434.7" y="468.13" font-family="'DejaVu Sans', 'Liberation Sans', sans-serif" font-size="8.0" fill="#62a662" text-anchor="middle">1</text>
<text x="491.03" y="468.13" font-family="'DejaVu Sans', 'Liberation Sans', sans-serif" font-size="8.0" fill="#62a662" text-anchor="middle">2</text>
<text x="551.46" y="468.13" font-family="'DejaVu Sans', 'Liberation Sans', sans-serif" font-size="8.0" fill="#62a662" text-anchor="middle">4</text>
<text x="588.85" y="468.13" font-family="'DejaVu Sans', 'Liberation Sans', sans-serif" font-size="8.0" fill="#62a662" text-anchor="middle">6</text>
<text x="616.32" y="468.13" font-family="'DejaVu Sans', 'Liberation Sans', sans-serif" font-size="8.0" fill="#62a662" text-anchor="middle">8</text>
<text x="638.17" y="468.13" font-family="'DejaVu Sans', 'Liberation Sans', sans-serif" font-size="8.0" fill="#62a662" text-anchor="middle">10</text>
<text x="664.48" y="468.13" font-family="'DejaVu Sans', 'Liberation Sans', sans-serif" font-size="8.0" fill="#62a662" text-anchor="middle">13</text>
<text x="685.77" y="468.13" font-family="'DejaVu Sans', 'Liberation Sans', sans-serif" font-size="8.0" fill="#62a662" text-anchor="middle">16</text>
<text x="709.09" y="468.13" font-family="'DejaVu Sans', 'Liberation Sans', sans-serif" font-size="8.0" fill="#62a662" text-anchor="middle">20</text>
<text x="728.47" y="468.13" font-family="'DejaVu Sans', 'Liberation Sans', sans-serif" font-size="8.0" fill="#62a662" text-anchor="middle">24</text>
<text x="752.58" y="468.13" font-family="'DejaVu Sans', 'Liberation Sans', sans-serif" font-size="8.0" fill="#62a662" text-anchor="middle">30</text>
<text x="772.56" y="468.13" font-family="'DejaVu Sans', 'Liberation Sans', sans-serif" font-size="8.0" fill="#62a662" text-anchor="middle">36</text>
<g clip-path="url(#cskew)" fill="none" stroke-linejoin="round" stroke-linecap="butt">
<polyline points="517.5,49.3 499.1,90 481.5,130 470.5,155.4 462.4,195.5 445.9,230.4 424.5,261.4 411.7,289.5 399.4,313.7 381.6,336.5 364.9,357 356.6,377.2 362.8,394.4 372.5,410.8 387,427.3 398.1,441.8 405.3,455.4 413.3,468.5 421.4,482.7 424.1,489.6 429,502.5 436.1,516.1 442.5,528.1 449.7,537.8 453.7,545.8 456.2,558.6 454.5,566.6 454.2,576.3 457.8,585.1 464.2,592.3 469.7,598 483,614.9 495,626.9 504.6,636.6 511.8,645 521.5,648.6" stroke="#0000ff" stroke-width="1.4"/>
<polyline points="303.6,49.3 266.8,106.8 253.2,155.4 246.5,195.5 232.4,230.4 240.8,261.2 232.8,289 232.2,313.5 247.7,336.6 284.4,357.2 315.7,376.8 328.6,394.6 329.7,412.3 337.4,427 347,441.5 356.1,456 354.1,470.6 348,482.8 350.1,494.8 358.7,506.2 396.8,528.9 415.8,538.8 425.7,549 433.7,569.8 437.8,580 442,590.8 448,601.1 456.5,608.9 468.5,617.9 481.7,626.3 489.6,631.1 492.6,636.6 493.2,645 504.6,648.6" stroke="#009600" stroke-width="2.9"/>
<polyline points="520.9,49.3 502.6,90 485.5,130 473.9,155.4 467,195.5 450.2,230.4 427.7,261.4 415.9,289.5 402.6,313.7 384.8,336.5 366.5,357 357,377.2 364.3,394.6 375.7,410.8 390.9,427.3 402.1,442 411.8,455.5 421.4,467.8 432.5,483.8 442.4,504.1 449.2,518.5 454,528.9 458.4,537.8 463,547.4 465.8,558.3 462.2,569 461,576.3 464.3,584.8 475,594.2 483.5,602.3 489,607.7 495,616.1 501,624.5 509.4,633 519,640.8 528.7,646.2 537.1,648.6" stroke="#ff0000" stroke-width="2.9"/>
<polyline points="188,272 240.6,334.1 270,368 338,440 358.2,460 396.5,500 416,520.9 430,533.6 444.9,553 456.2,567.4 465.8,581.1 475.6,594.7 485,606.8 492.5,618 501.8,626.5 509.3,631.2 514.9,635.8 526.1,644.3 532,648" stroke="#800080" stroke-width="3.2" stroke-dasharray="9.5,4.4"/>
</g>
<rect x="492.3" y="650.4" width="23.2" height="9.4" fill="#ffffff"/><rect x="525.2" y="650.4" width="22.4" height="9.4" fill="#ffffff"/>
<text x="503.7" y="658.8" font-family="'DejaVu Sans', 'Liberation Sans', sans-serif" font-size="11.2" font-weight="bold" fill="#009600" text-anchor="middle">37F</text>
<text x="536.2" y="658.8" font-family="'DejaVu Sans', 'Liberation Sans', sans-serif" font-size="11.2" font-weight="bold" fill="#ff0000" text-anchor="middle">46F</text>
<g fill="none" stroke="#000000" stroke-width="1.1" stroke-linejoin="miter" stroke-linecap="butt">
<path d="M858.86,52.53 L835.54,44.37 M835.54,44.37 L835.89,34.03 M838.46,45.39 L838.63,40.22"/>
<path d="M859.27,109.44 L835.13,104.26 M835.13,104.26 L834.18,93.95 M838.14,104.91 L837.67,99.75"/>
<path d="M859,158.48 L835.4,151.22 M835.4,151.22 L835.35,140.87"/>
<path d="M858.54,199.59 L835.86,189.81 M835.86,189.81 L836.94,179.51"/>
<path d="M854.64,220.24 L839.76,239.96 M839.76,239.96 L830.02,236.47"/>
<circle cx="847.2" cy="260.9" r="3.7"/>
<path d="M858.45,293.45 L835.95,283.25 M840.17,285.16 L840.8,280.03"/>
<path d="M856.49,305.26 L837.91,321.54 M837.91,321.54 L829.08,316.14 M840.23,319.5 L835.82,316.81"/>
<path d="M854.53,326.36 L839.87,346.24 M839.87,346.24 L830.08,342.86 M841.7,343.75 L831.92,340.37"/>
<path d="M852.8,346.39 L841.6,368.41 M841.6,368.41 L831.4,366.68 M843,365.66 L832.8,363.93 M844.4,362.9 L839.3,362.04"/>
<path d="M852.48,365.54 L841.92,387.86 M841.92,387.86 L831.66,386.42 M843.24,385.07 L832.99,383.63 M844.56,382.28 L834.31,380.84"/>
<path d="M852.66,383.42 L841.74,405.58 M841.74,405.58 L831.51,403.98 M843.11,402.81 L832.88,401.21 M844.47,400.04 L839.36,399.24"/>
<path d="M852.64,400.11 L841.76,422.29 M841.76,422.29 L831.53,420.7 M843.12,419.51 L832.89,417.93"/>
<path d="M852.73,431.31 L841.67,453.39 M841.67,453.39 L831.45,451.73 M843.05,450.63 L837.94,449.8"/>
<path d="M849.21,457.87 L845.19,482.23 M845.19,482.23 L834.94,483.67"/>
<path d="M847.2,482.45 L847.2,507.15 M847.2,507.15 L837.32,510.24"/>
<path d="M853.24,507.13 L841.16,528.67 M843.43,524.63 L838.36,523.57"/>
<path d="M858.05,532.6 L836.35,544.4 M836.35,544.4 L828.92,537.2"/>
<path d="M859.11,554.99 L835.29,561.51 M835.29,561.51 L829.7,552.8"/>
<path d="M857.74,582.58 L836.66,569.72 M840.61,572.13 L841.87,567.11"/>
<path d="M858.98,596.76 L835.42,589.34 M839.84,590.73 L839.85,585.56"/>
<path d="M859.54,609.51 L834.86,608.39 M839.49,608.6 L838.17,603.6"/>
<path d="M858.68,635.55 L835.72,626.45 M840.03,628.15 L840.41,622.99"/>
<path d="M858.48,653.49 L835.92,643.41 M840.15,645.3 L840.76,640.16"/>
</g>
<g stroke="#000000" stroke-width="1.1" fill="none">
<rect x="188.5" y="49.5" width="638" height="616"/>
<line x1="183.6" y1="49.5" x2="188.5" y2="49.5"/>
<line x1="826.5" y1="49.5" x2="831.4" y2="49.5"/>
<line x1="183.6" y1="155.5" x2="188.5" y2="155.5"/>
<line x1="826.5" y1="155.5" x2="831.4" y2="155.5"/>
<line x1="183.6" y1="230.5" x2="188.5" y2="230.5"/>
<line x1="826.5" y1="230.5" x2="831.4" y2="230.5"/>
<line x1="183.6" y1="289.5" x2="188.5" y2="289.5"/>
<line x1="826.5" y1="289.5" x2="831.4" y2="289.5"/>
<line x1="183.6" y1="336.5" x2="188.5" y2="336.5"/>
<line x1="826.5" y1="336.5" x2="831.4" y2="336.5"/>
<line x1="183.6" y1="377.5" x2="188.5" y2="377.5"/>
<line x1="826.5" y1="377.5" x2="831.4" y2="377.5"/>
<line x1="183.6" y1="412.5" x2="188.5" y2="412.5"/>
<line x1="826.5" y1="412.5" x2="831.4" y2="412.5"/>
<line x1="183.6" y1="442.5" x2="188.5" y2="442.5"/>
<line x1="826.5" y1="442.5" x2="831.4" y2="442.5"/>
<line x1="183.6" y1="470.5" x2="188.5" y2="470.5"/>
<line x1="826.5" y1="470.5" x2="831.4" y2="470.5"/>
<line x1="183.6" y1="495.5" x2="188.5" y2="495.5"/>
<line x1="826.5" y1="495.5" x2="831.4" y2="495.5"/>
<line x1="183.6" y1="518.5" x2="188.5" y2="518.5"/>
<line x1="826.5" y1="518.5" x2="831.4" y2="518.5"/>
<line x1="183.6" y1="539.5" x2="188.5" y2="539.5"/>
<line x1="826.5" y1="539.5" x2="831.4" y2="539.5"/>
<line x1="183.6" y1="558.5" x2="188.5" y2="558.5"/>
<line x1="826.5" y1="558.5" x2="831.4" y2="558.5"/>
<line x1="183.6" y1="576.5" x2="188.5" y2="576.5"/>
<line x1="826.5" y1="576.5" x2="831.4" y2="576.5"/>
<line x1="183.6" y1="593.5" x2="188.5" y2="593.5"/>
<line x1="826.5" y1="593.5" x2="831.4" y2="593.5"/>
<line x1="183.6" y1="609.5" x2="188.5" y2="609.5"/>
<line x1="826.5" y1="609.5" x2="831.4" y2="609.5"/>
<line x1="183.6" y1="624.5" x2="188.5" y2="624.5"/>
<line x1="826.5" y1="624.5" x2="831.4" y2="624.5"/>
<line x1="183.6" y1="638.5" x2="188.5" y2="638.5"/>
<line x1="826.5" y1="638.5" x2="831.4" y2="638.5"/>
<line x1="183.6" y1="652.5" x2="188.5" y2="652.5"/>
<line x1="826.5" y1="652.5" x2="831.4" y2="652.5"/>
<line x1="183.6" y1="664.5" x2="188.5" y2="664.5"/>
<line x1="826.5" y1="664.5" x2="831.4" y2="664.5"/>
<line x1="188.5" y1="664.81" x2="188.5" y2="669.71"/>
<line x1="188.5" y1="49.08" x2="188.5" y2="44.18"/>
<line x1="259.5" y1="664.81" x2="259.5" y2="669.71"/>
<line x1="259.5" y1="49.08" x2="259.5" y2="44.18"/>
<line x1="330.5" y1="664.81" x2="330.5" y2="669.71"/>
<line x1="330.5" y1="49.08" x2="330.5" y2="44.18"/>
<line x1="401.5" y1="664.81" x2="401.5" y2="669.71"/>
<line x1="401.5" y1="49.08" x2="401.5" y2="44.18"/>
<line x1="472.5" y1="664.81" x2="472.5" y2="669.71"/>
<line x1="472.5" y1="49.08" x2="472.5" y2="44.18"/>
<line x1="542.5" y1="664.81" x2="542.5" y2="669.71"/>
<line x1="542.5" y1="49.08" x2="542.5" y2="44.18"/>
<line x1="613.5" y1="664.81" x2="613.5" y2="669.71"/>
<line x1="613.5" y1="49.08" x2="613.5" y2="44.18"/>
<line x1="684.5" y1="664.81" x2="684.5" y2="669.71"/>
<line x1="684.5" y1="49.08" x2="684.5" y2="44.18"/>
<line x1="755.5" y1="664.81" x2="755.5" y2="669.71"/>
<line x1="755.5" y1="49.08" x2="755.5" y2="44.18"/>
<line x1="826.5" y1="664.81" x2="826.5" y2="669.71"/>
<line x1="826.5" y1="49.08" x2="826.5" y2="44.18"/>
</g>
<g font-family="'DejaVu Sans', 'Liberation Sans', sans-serif" font-size="13.9" fill="#000000">
<text x="177.5" y="54.08" text-anchor="end">100</text>
<text x="177.5" y="235.59" text-anchor="end">200</text>
<text x="177.5" y="341.76" text-anchor="end">300</text>
<text x="177.5" y="417.09" text-anchor="end">400</text>
<text x="177.5" y="475.53" text-anchor="end">500</text>
<text x="177.5" y="523.27" text-anchor="end">600</text>
<text x="177.5" y="563.64" text-anchor="end">700</text>
<text x="177.5" y="598.6" text-anchor="end">800</text>
<text x="177.5" y="629.44" text-anchor="end">900</text>
<text x="177.5" y="657.03" text-anchor="end">1000</text>
<text x="188.5" y="685.3" text-anchor="middle">−40</text>
<text x="259.39" y="685.3" text-anchor="middle">−30</text>
<text x="330.28" y="685.3" text-anchor="middle">−20</text>
<text x="401.17" y="685.3" text-anchor="middle">−10</text>
<text x="472.06" y="685.3" text-anchor="middle">0</text>
<text x="542.94" y="685.3" text-anchor="middle">10</text>
<text x="613.83" y="685.3" text-anchor="middle">20</text>
<text x="684.72" y="685.3" text-anchor="middle">30</text>
<text x="755.61" y="685.3" text-anchor="middle">40</text>
<text x="826.5" y="685.3" text-anchor="middle">50</text>
</g>
<text x="507" y="39.5" font-family="'DejaVu Sans', 'Liberation Sans', sans-serif" font-size="13.9" font-weight="bold" text-anchor="middle">HRRR Sounding at KDKB Init: 16z Nov 01 [F001] valid 17z Nov 01 2025</text>
<text x="506.5" y="706" font-family="'DejaVu Sans', 'Liberation Sans', sans-serif" font-size="16.67" text-anchor="middle">Temperature (°C)</text>
<text transform="translate(134.5,357.2) rotate(-90)" font-family="'DejaVu Sans', 'Liberation Sans', sans-serif" font-size="16.67" text-anchor="middle">Pressure (hPa)</text>
<text x="987.6" y="35.8" font-family="'DejaVu Sans', 'Liberation Sans', sans-serif" font-size="16.67" font-weight="bold" font-stretch="condensed" letter-spacing="0.19" fill="#808080" text-anchor="middle">TROPICALTIDBITS.COM</text>
<g stroke="#000" stroke-width="1.1">
<line x1="38.4" y1="665.3" x2="38.4" y2="670.2"/>
<line x1="69.5" y1="665.3" x2="69.5" y2="670.2"/>
<line x1="100.5" y1="665.3" x2="100.5" y2="670.2"/>
</g>
<g font-family="'DejaVu Sans', 'Liberation Sans', sans-serif" font-size="10.5" fill="#000" text-anchor="middle">
<text x="39.6" y="681.8">0</text>
<text x="69.2" y="681.8">−1</text>
<text x="100.0" y="681.8">−2</text>
</g>
<text x="69.8" y="703.3" font-family="'DejaVu Sans', 'Liberation Sans', sans-serif" font-size="13.9" text-anchor="middle">Omega (Pa/s)</text>
<rect x="17.5" y="63.5" width="153" height="124" rx="2.8" fill="#ffffff" fill-opacity="0.8" stroke="#cccccc" stroke-width="1.1"/>
<g fill="none">
<line x1="21.2" y1="72.4" x2="43.7" y2="72.4" stroke="#3c963c" stroke-width="1.3" stroke-dasharray="1.4,2.3"/>
<line x1="21.2" y1="87.4" x2="43.7" y2="87.4" stroke="#d9a0a0" stroke-width="1.1"/>
<line x1="21.2" y1="103.7" x2="43.7" y2="103.7" stroke="#a8a8e8" stroke-width="1.1"/>
<line x1="21.2" y1="119.6" x2="43.7" y2="119.6" stroke="#0000ff" stroke-width="1.4"/>
<line x1="20.2" y1="134.2" x2="44.7" y2="134.2" stroke="#009600" stroke-width="2.9"/>
<line x1="20.2" y1="150.5" x2="44.7" y2="150.5" stroke="#ff0000" stroke-width="2.9"/>
<line x1="21.2" y1="172.4" x2="44.2" y2="172.4" stroke="#800080" stroke-width="3.2" stroke-dasharray="9.5,4.4"/>
</g>
<g font-family="'DejaVu Sans', 'Liberation Sans', sans-serif" font-size="11.1" fill="#000">
<text x="52.7" y="76.4">Sat. Mix. Ratio</text>
<text x="52.7" y="91.2">Dry Adiabats</text>
<text x="52.7" y="107.3">Pseudoadiabats</text>
<text x="52.7" y="122.7">Wetbulb</text>
<text x="52.7" y="138">Dewpoint</text>
<text x="52.7" y="154.1">Temperature</text>
<text x="52.7" y="169.5">Mixed-Layer</text>
<text x="52.7" y="181.7">Parcel Path (100mb)</text>
</g>
<g>
<rect x="37.35" y="49.85" width="0.3" height="2.08" fill="#808080" stroke="#767676" stroke-width="0.7"/>
<rect x="35.85" y="104.66" width="1.8" height="5.7" fill="#808080" stroke="#767676" stroke-width="0.7"/>
<rect x="38.35" y="192.77" width="1.2" height="5.7" fill="#f0f000" stroke="#e9e900" stroke-width="0.7"/>
<rect x="34.55" y="227.74" width="3.1" height="5.7" fill="#808080" stroke="#767676" stroke-width="0.7"/>
<rect x="34.55" y="258.58" width="3.1" height="5.7" fill="#808080" stroke="#767676" stroke-width="0.7"/>
<rect x="37.55" y="286.17" width="0.1" height="5.7" fill="#808080" stroke="#767676" stroke-width="0.7"/>
<rect x="35.45" y="311.13" width="2.2" height="5.7" fill="#808080" stroke="#767676" stroke-width="0.7"/>
<rect x="30.45" y="333.91" width="7.2" height="5.7" fill="#808080" stroke="#767676" stroke-width="0.7"/>
<rect x="28.55" y="354.87" width="9.1" height="5.7" fill="#808080" stroke="#767676" stroke-width="0.7"/>
<rect x="33.75" y="374.28" width="3.9" height="5.7" fill="#808080" stroke="#767676" stroke-width="0.7"/>
<rect x="38.35" y="392.34" width="0.1" height="5.7" fill="#f0f000" stroke="#e9e900" stroke-width="0.7"/>
<rect x="38.35" y="409.24" width="5.4" height="5.7" fill="#f9d423" stroke="#f2ce22" stroke-width="0.7"/>
<rect x="38.35" y="425.12" width="8.1" height="5.7" fill="#fcc328" stroke="#f4bd27" stroke-width="0.7"/>
<rect x="38.35" y="440.09" width="9.4" height="5.7" fill="#fcbe23" stroke="#f4b822" stroke-width="0.7"/>
<rect x="38.35" y="454.25" width="8.1" height="5.7" fill="#fcc328" stroke="#f4bd27" stroke-width="0.7"/>
<rect x="38.35" y="467.68" width="7.1" height="5.7" fill="#fbc928" stroke="#f3c327" stroke-width="0.7"/>
<rect x="38.35" y="480.45" width="5.4" height="5.7" fill="#f9d423" stroke="#f2ce22" stroke-width="0.7"/>
<rect x="38.35" y="492.63" width="3.1" height="5.7" fill="#f3e312" stroke="#ebdd11" stroke-width="0.7"/>
<rect x="38.35" y="504.27" width="0.3" height="5.7" fill="#f0f000" stroke="#e9e900" stroke-width="0.7"/>
<rect x="36.55" y="515.42" width="1.1" height="5.7" fill="#808080" stroke="#767676" stroke-width="0.7"/>
<rect x="33.75" y="526.11" width="3.9" height="5.7" fill="#808080" stroke="#767676" stroke-width="0.7"/>
<rect x="32.55" y="536.38" width="5.1" height="5.7" fill="#808080" stroke="#767676" stroke-width="0.7"/>
<rect x="32.55" y="546.26" width="5.1" height="5.7" fill="#808080" stroke="#767676" stroke-width="0.7"/>
<rect x="32.55" y="555.79" width="5.1" height="5.7" fill="#808080" stroke="#767676" stroke-width="0.7"/>
<rect x="31.45" y="564.97" width="6.2" height="5.7" fill="#808080" stroke="#767676" stroke-width="0.7"/>
<rect x="31.45" y="573.85" width="6.2" height="5.7" fill="#808080" stroke="#767676" stroke-width="0.7"/>
<rect x="31.35" y="582.44" width="6.3" height="5.7" fill="#808080" stroke="#767676" stroke-width="0.7"/>
<rect x="34.35" y="590.75" width="3.3" height="5.7" fill="#808080" stroke="#767676" stroke-width="0.7"/>
<rect x="37.55" y="598.81" width="0.1" height="5.7" fill="#808080" stroke="#767676" stroke-width="0.7"/>
<rect x="38.35" y="614.22" width="0.2" height="5.7" fill="#f0f000" stroke="#e9e900" stroke-width="0.7"/>
<rect x="38.35" y="621.59" width="0.2" height="5.7" fill="#f0f000" stroke="#e9e900" stroke-width="0.7"/>
</g>
<g stroke="#ff0000" stroke-width="2.6" stroke-dasharray="8.4,3">
<line x1="23.3" y1="519.6" x2="98.6" y2="519.6"/>
<line x1="23.3" y1="556.3" x2="98.6" y2="556.3"/>
</g>
<g font-family="'DejaVu Sans', 'Liberation Sans', sans-serif" font-size="11.1" font-weight="bold" fill="#ff0000" text-anchor="end">
<text x="100.1" y="514.8">DGZ</text>
<text x="100.1" y="568.8">DGZ</text>
</g>
<g clip-path="url(#chodo)" fill="none">
<ellipse cx="968.5" cy="186.4" rx="30" ry="26" stroke="#a0a0a0" stroke-width="1" stroke-dasharray="1,2"/>
<ellipse cx="968.5" cy="186.4" rx="60" ry="52" stroke="#a0a0a0" stroke-width="1" stroke-dasharray="1,2"/>
<ellipse cx="968.5" cy="186.4" rx="90" ry="78" stroke="#a0a0a0" stroke-width="1" stroke-dasharray="1,2"/>
<ellipse cx="968.5" cy="186.4" rx="120" ry="104" stroke="#a0a0a0" stroke-width="1" stroke-dasharray="1,2"/>
<ellipse cx="968.5" cy="186.4" rx="150" ry="130" stroke="#a0a0a0" stroke-width="1" stroke-dasharray="1,2"/>
<ellipse cx="968.5" cy="186.4" rx="180" ry="156" stroke="#a0a0a0" stroke-width="1" stroke-dasharray="1,2"/>
<ellipse cx="968.5" cy="186.4" rx="210" ry="182" stroke="#a0a0a0" stroke-width="1" stroke-dasharray="1,2"/>
<ellipse cx="968.5" cy="186.4" rx="240" ry="208" stroke="#a0a0a0" stroke-width="1" stroke-dasharray="1,2"/>
<line x1="876.5" y1="186.5" x2="1096.5" y2="186.5" stroke="#222" stroke-width="1.1"/>
<line x1="968.5" y1="49.5" x2="968.5" y2="236.8" stroke="#222" stroke-width="1.1"/>
</g>
<g font-family="'DejaVu Sans', 'Liberation Sans', sans-serif" font-size="11.1" fill="#808080" text-anchor="middle">
<text x="908.5" y="203.1">10</text>
<text x="938.5" y="203.1">5</text>
<text x="998.5" y="203.1">5</text>
<text x="1028.5" y="203.1">10</text>
<text x="1058.5" y="203.1">15</text>
</g>
<g fill="none" stroke-width="2.35" stroke-linejoin="round">
<polyline points="986.2,189.2 988.6,186.6 992.2,186.6 993.7,189 991.4,191.8 990.8,194.6 994,195.6 997.4,195.6 999,187 1013.5,174.7" stroke="#ff0000"/>
<polyline points="1013.3,166 1000.6,161.4 986.7,155 972.3,146.4 967.6,136 968,132 1008.1,115.2" stroke="#008000"/>
<polyline points="1015.1,108.9 1021.5,99.8 1029.5,87.8 1038.2,67.1 1039.4,62.5 1037.3,53 1040.9,61 1045.6,91.1 1042.9,101.1 1039.5,110.2" stroke="#bf00bf"/>
<polyline points="1035.5,120.9 1016.7,173.7 1008.7,198.8 1006,199.9 972.8,196.4 971.8,195.1 1007.6,139.8" stroke="#0000ff"/>
</g>
<g font-family="'DejaVu Sans', 'Liberation Sans', sans-serif" font-size="12" fill="#000" text-anchor="middle">
<rect x="993.2" y="184.9" width="7.4" height="9.6" fill="#ffffff"/>
<text x="996.9" y="194.1">1</text>
<rect x="983" y="190.8" width="7.4" height="9.6" fill="#ffffff"/>
<text x="986.7" y="200">2</text>
<rect x="1011.7" y="163.8" width="7.4" height="9.6" fill="#ffffff"/>
<text x="1015.4" y="173">3</text>
<rect x="1007.8" y="107.7" width="7.4" height="9.6" fill="#ffffff"/>
<text x="1011.5" y="116.9">6</text>
<rect x="1033.2" y="110.4" width="7.4" height="9.6" fill="#ffffff"/>
<text x="1036.9" y="119.6">9</text>
</g>
<ellipse cx="907.8" cy="158.5" rx="8.9" ry="7.7" fill="#fff" stroke="#000" stroke-width="1.6"/>
<text x="908.1" y="161.8" font-family="'DejaVu Sans', 'Liberation Sans', sans-serif" font-size="9.6" font-stretch="condensed" fill="#000" text-anchor="middle" letter-spacing="-0.9">LM</text>
<ellipse cx="1078.8" cy="192.3" rx="8.9" ry="7.7" fill="#fff" stroke="#000" stroke-width="1.6"/>
<text x="1079.1" y="195.6" font-family="'DejaVu Sans', 'Liberation Sans', sans-serif" font-size="9.6" font-stretch="condensed" fill="#000" text-anchor="middle" letter-spacing="-0.9">RM</text>
<rect x="876.5" y="49.5" width="220" height="187.3" fill="none" stroke="#000" stroke-width="1.1"/>
<text x="985.6" y="250.7" font-family="'DejaVu Sans', 'Liberation Sans', sans-serif" font-size="11.1" text-anchor="middle">Hodograph (wind in kt, height in km)</text>
<g font-family="'DejaVu Sans Mono', 'Liberation Mono', monospace" font-size="13.9">
<text x="876.5" y="285.9" fill="#000">SRH 0-1km:</text>
<text x="1035" y="285.9" fill="#000" text-anchor="end">2</text>
<text x="1043.6" y="285.9" fill="#000" font-family="'DejaVu Sans', 'Liberation Sans', sans-serif" font-style="italic">m<tspan font-size="9.9" font-style="normal" dx="0.9" dy="-4.9">2</tspan><tspan dx="0.9" dy="4.9">s</tspan><tspan font-size="9.9" font-style="normal" dx="0.1" dy="-4.9">−</tspan><tspan font-size="9.9" font-style="normal" dx="0.2">2</tspan></text>
<text x="876.5" y="302.6" fill="#000">SRH 0-3km:</text>
<text x="1035" y="302.6" fill="#000" text-anchor="end">16</text>
<text x="1043.6" y="302.6" fill="#000" font-family="'DejaVu Sans', 'Liberation Sans', sans-serif" font-style="italic">m<tspan font-size="9.9" font-style="normal" dx="0.9" dy="-4.9">2</tspan><tspan dx="0.9" dy="4.9">s</tspan><tspan font-size="9.9" font-style="normal" dx="0.1" dy="-4.9">−</tspan><tspan font-size="9.9" font-style="normal" dx="0.2">2</tspan></text>
<text x="876.5" y="321.5" fill="#c9282e">SBCAPE:</text>
<text x="1035" y="321.5" fill="#c9282e" text-anchor="end">118</text>
<text x="1043.6" y="321.5" fill="#c9282e">J/kg</text>
<text x="876.5" y="338.9" fill="#c9282e">MLCAPE:</text>
<text x="1035" y="338.9" fill="#c9282e" text-anchor="end">13</text>
<text x="1043.6" y="338.9" fill="#c9282e">J/kg</text>
<text x="876.5" y="356.6" fill="#c9282e">MUCAPE:</text>
<text x="1035" y="356.6" fill="#c9282e" text-anchor="end">118</text>
<text x="1043.6" y="356.6" fill="#c9282e">J/kg</text>
<text x="876.5" y="373.8" fill="#000">SBCIN:</text>
<text x="1035" y="373.8" fill="#000" text-anchor="end">0</text>
<text x="1043.6" y="373.8" fill="#000">J/kg</text>
<text x="876.5" y="392.1" fill="#2424c8">MLCIN:</text>
<text x="1035" y="392.1" fill="#2424c8" text-anchor="end">-7</text>
<text x="1043.6" y="392.1" fill="#2424c8">J/kg</text>
<text x="876.5" y="408.8" fill="#2424c8">DCAPE:</text>
<text x="1035" y="408.8" fill="#2424c8" text-anchor="end">146</text>
<text x="1043.6" y="408.8" fill="#2424c8">J/kg</text>
<text x="876.5" y="427.5" fill="#d05a22">SHR 200-850mb:</text>
<text x="1035" y="427.5" fill="#d05a22" text-anchor="end">10</text>
<text x="1043.6" y="427.5" fill="#d05a22">kt</text>
<text x="876.5" y="444.1" fill="#000">RH 300-850mb:</text>
<text x="1035" y="444.1" fill="#000" text-anchor="end">52</text>
<text x="1043.6" y="444.1" fill="#000">%</text>
<text x="876.5" y="462.1" fill="#000">PWAT:</text>
<text x="1035" y="462.1" fill="#000" text-anchor="end">0.38</text>
<text x="1043.6" y="462.1" fill="#000">in</text>
</g>
<g clip-path="url(#cthe)"><polyline points="1082.2,500.5 1064.9,502.5 1049.9,505.2 1034.9,508.5 1022.2,510.7 1012.5,516 1008,522.7 1003.5,531.7 999,538.5 990,549.7 981,556.5 975,562.5 971.2,569.2 970.6,576 969.5,579.4 962.9,586.7 952.8,592.1 944.8,598.1 941.5,602.8 940.8,610.1 942.1,618.1 944.8,626.8 948.8,634.2 952.2,638.9 956.2,647.3 958.2,648.2 966.9,650.9" fill="none" stroke="#2e96b2" stroke-width="3.0" stroke-linejoin="round"/></g>
<rect x="892.5" y="500.5" width="204" height="165" fill="none" stroke="#000" stroke-width="1.1"/>
<g stroke="#000" stroke-width="1.1">
<line x1="898.3" y1="665.5" x2="898.3" y2="660.7"/>
<line x1="943.35" y1="665.5" x2="943.35" y2="660.7"/>
<line x1="988.4" y1="665.5" x2="988.4" y2="660.7"/>
<line x1="1033.45" y1="665.5" x2="1033.45" y2="660.7"/>
<line x1="1078.5" y1="665.5" x2="1078.5" y2="660.7"/>
<line x1="892.5" y1="522.3" x2="897.3" y2="522.3"/>
<line x1="892.5" y1="566.2" x2="897.3" y2="566.2"/>
<line x1="892.5" y1="610.1" x2="897.3" y2="610.1"/>
<line x1="892.5" y1="654" x2="897.3" y2="654"/>
</g>
<g font-family="'DejaVu Sans', 'Liberation Sans', sans-serif" font-size="11.1" fill="#000">
<text x="898.3" y="656.2" text-anchor="middle">280</text>
<text x="943.35" y="656.2" text-anchor="middle">290</text>
<text x="988.4" y="656.2" text-anchor="middle">300</text>
<text x="1033.45" y="656.2" text-anchor="middle">310</text>
<text x="1078.5" y="656.2" text-anchor="middle">320</text>
<text x="902.4" y="526.3">400</text>
<text x="902.4" y="570.2">600</text>
<text x="902.4" y="614.1">800</text>
<text x="993.5" y="677.7" text-anchor="middle">Equivalent Pot. Temperature (K)</text>
<text transform="translate(883.9,582.5) rotate(-90)" text-anchor="middle">Pressure (hPa)</text>
</g>
</svg>
<div class="frame"></div><div class="frame2"></div>
</body></html>
